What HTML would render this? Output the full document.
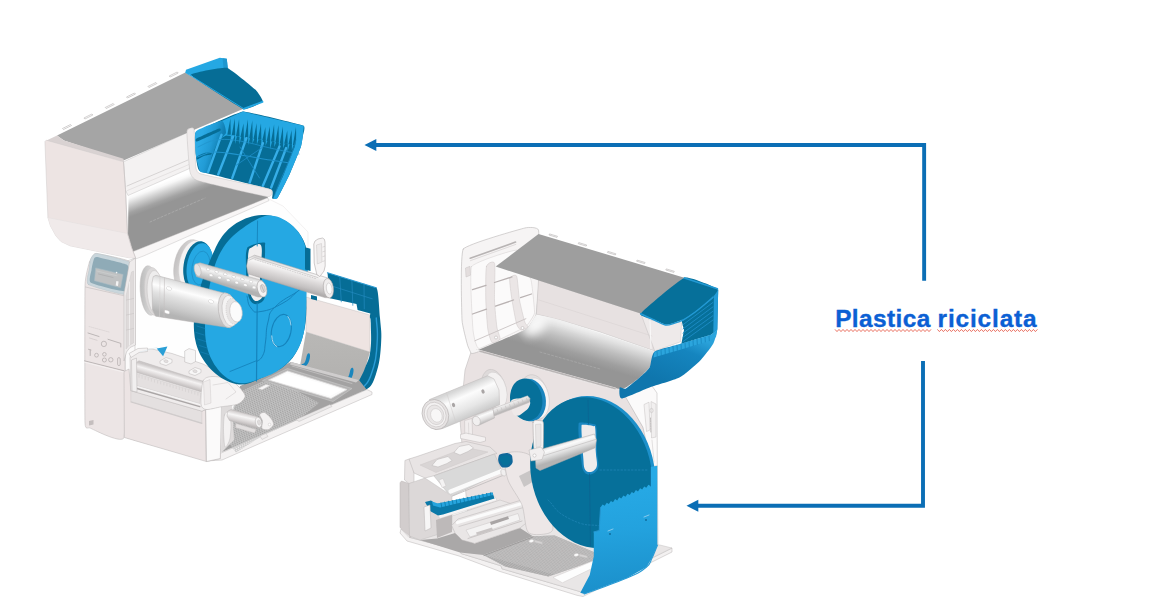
<!DOCTYPE html>
<html><head><meta charset="utf-8">
<style>
html,body{margin:0;padding:0;background:#fff;}
body{width:1162px;height:603px;overflow:hidden;position:relative;font-family:"Liberation Sans",sans-serif;}
svg{position:absolute;left:0;top:0;}
.lbl{position:absolute;top:304.1px;font-weight:bold;font-size:24.4px;color:#0b60d4;white-space:nowrap;line-height:30px;-webkit-text-stroke:0.35px #0b60d4;}
#l1{left:835.2px;letter-spacing:0.4px;}
#l2{left:937.6px;letter-spacing:0.85px;}
</style></head><body>
<svg width="1162" height="603" viewBox="0 0 1162 603">
<!-- 10_left_a.svgfrag -->
<defs><linearGradient id="lgA" gradientUnits="userSpaceOnUse" x1="152.0" y1="187.0" x2="168.0" y2="224.0"><stop offset="0" stop-color="#f2f2f2"/><stop offset="0.1" stop-color="#ffffff"/><stop offset="0.22" stop-color="#eeeeee"/><stop offset="0.45" stop-color="#c6c6c6"/><stop offset="0.7" stop-color="#b0b0b0"/><stop offset="1" stop-color="#a8a8a8"/></linearGradient><linearGradient id="lgCyl" gradientUnits="userSpaceOnUse" x1="0.0" y1="0.0" x2="1.0" y2="0.0"><stop offset="0" stop-color="#fff"/></linearGradient><linearGradient id="lgRoll" gradientUnits="userSpaceOnUse" x1="196.0" y1="284.0" x2="187.0" y2="319.0"><stop offset="0" stop-color="#cfcfcf"/><stop offset="0.12" stop-color="#e6e6e6"/><stop offset="0.3" stop-color="#fdfdfd"/><stop offset="0.5" stop-color="#e2e2e2"/><stop offset="0.8" stop-color="#c9c9c9"/><stop offset="1" stop-color="#b4b4b4"/></linearGradient><linearGradient id="lgFl" gradientUnits="userSpaceOnUse" x1="139.0" y1="290.0" x2="162.0" y2="292.0"><stop offset="0" stop-color="#b9b9b9"/><stop offset="0.5" stop-color="#d6d6d6"/><stop offset="1" stop-color="#eeeeee"/></linearGradient><linearGradient id="lgShaft" gradientUnits="userSpaceOnUse" x1="291.0" y1="264.0" x2="285.5" y2="286.0"><stop offset="0" stop-color="#d2d0d0"/><stop offset="0.25" stop-color="#f7f6f6"/><stop offset="0.55" stop-color="#dddada"/><stop offset="0.85" stop-color="#c4c1c1"/><stop offset="1" stop-color="#b0adad"/></linearGradient><linearGradient id="lgSp" gradientUnits="userSpaceOnUse" x1="232.0" y1="272.0" x2="228.5" y2="285.5"><stop offset="0" stop-color="#cbcbcb"/><stop offset="0.3" stop-color="#f4f4f4"/><stop offset="0.6" stop-color="#d6d6d6"/><stop offset="1" stop-color="#b2b2b2"/></linearGradient><linearGradient id="lgSide" gradientUnits="userSpaceOnUse" x1="330.0" y1="330.0" x2="330.0" y2="385.0"><stop offset="0" stop-color="#b9b8b6"/><stop offset="1" stop-color="#b2b1af"/></linearGradient><linearGradient id="lgRing" gradientUnits="userSpaceOnUse" x1="174.0" y1="266.0" x2="200.0" y2="270.0"><stop offset="0" stop-color="#c4c2c2"/><stop offset="0.5" stop-color="#dddbdb"/><stop offset="1" stop-color="#f0eeee"/></linearGradient><linearGradient id="lgPlaten" gradientUnits="userSpaceOnUse" x1="170.0" y1="371.5" x2="167.0" y2="382.0"><stop offset="0" stop-color="#cbc7c7"/><stop offset="0.35" stop-color="#f4f2f2"/><stop offset="0.7" stop-color="#d9d5d5"/><stop offset="1" stop-color="#bfbbbb"/></linearGradient><linearGradient id="lgPeel" gradientUnits="userSpaceOnUse" x1="244.0" y1="413.0" x2="241.5" y2="424.0"><stop offset="0" stop-color="#cfcbcb"/><stop offset="0.35" stop-color="#f7f6f6"/><stop offset="0.75" stop-color="#d6d2d2"/><stop offset="1" stop-color="#bcb8b8"/></linearGradient></defs>
<polygon points="133.0,258.0 267.0,198.0 283.0,206.0 308.0,232.0 308.0,366.0 225.0,452.0 206.0,460.0 133.0,440.0" fill="#fefefe" stroke="#e6e3e3" stroke-width="0.5" stroke-linejoin="round" />
<polygon points="125.0,262.0 135.0,258.0 135.0,440.0 125.0,437.0" fill="#fbfafa" stroke="#b9b5b5" stroke-width="0.5" stroke-linejoin="round" />
<polygon points="306.0,297.0 370.0,315.0 370.0,352.0 306.0,332.0" fill="#eee4e2" stroke="#b9b5b5" stroke-width="0.4" stroke-linejoin="round" />
<polygon points="306.0,332.0 370.0,352.0 361.0,383.0 300.0,366.0" fill="url(#lgSide)" />
<polygon points="327.5,272.8 376.2,287.8 376.2,312.2 370.4,313.4 357.6,309.9 356.5,304.0 329.8,298.3" fill="#066d96" />
<polygon points="311.0,295.0 317.0,296.5 317.0,300.5 311.0,299.0" fill="#066d96" />
<polyline points="327.5,272.8 376.2,287.8" fill="none" stroke="#2b9ad2" stroke-width="1.2" stroke-linecap="round" stroke-linejoin="round" />
<polyline points="339.7,276.6 341.3,301.8" fill="none" stroke="#2389bf" stroke-width="0.7" stroke-linecap="round" stroke-linejoin="round" />
<polyline points="351.9,280.3 352.8,305.3" fill="none" stroke="#2389bf" stroke-width="0.7" stroke-linecap="round" stroke-linejoin="round" />
<polyline points="364.0,284.1 364.3,308.8" fill="none" stroke="#2389bf" stroke-width="0.7" stroke-linecap="round" stroke-linejoin="round" />
<polyline points="328.5,285.0 376.0,300.0" fill="none" stroke="#2389bf" stroke-width="0.7" stroke-linecap="round" stroke-linejoin="round" />
<path d="M376.2 287.8 C378.4 289.0 378.9 304.7 380.0 318.0 C381.1 331.3 381.9 331.9 381.0 345.0 C380.1 358.1 379.3 363.7 376.0 374.0 C372.7 384.3 371.3 386.1 367.0 389.0 C362.7 391.9 358.2 391.2 357.6 386.5 C357.0 381.8 361.6 377.4 364.6 369.0 C367.6 360.6 369.0 361.2 370.4 350.5 C371.8 339.8 370.8 331.8 370.8 323.0 C370.8 314.2 369.1 321.2 370.4 313.0 C371.7 304.8 374.0 286.6 376.2 287.8Z" fill="#066d96" />
<path d="M376.3 318.0 C376.5 327.0 378.4 327.0 377.0 345.0 C375.6 363.0 376.5 357.8 372.0 372.0 C367.5 386.2 366.3 382.3 363.5 387.5" fill="none" stroke="#2a9cd6" stroke-width="1.4" stroke-linejoin="round" stroke-linecap="round" />
<path d="M307.5 354.0 C308.5 352.6 309.8 353.3 310.0 355.0 C310.2 356.7 309.7 360.0 308.5 362.5 C307.3 365.0 305.6 366.6 304.0 367.5 C302.4 368.4 301.0 367.6 300.5 367.0 C300.0 366.4 300.6 365.5 301.5 364.5 C302.4 363.5 303.8 364.1 305.0 362.0 C306.2 359.9 306.5 355.4 307.5 354.0Z" fill="#1a86bd" />
<path d="M351.0 368.5 C352.0 367.1 353.3 367.8 353.5 369.5 C353.7 371.2 353.2 374.5 352.0 377.0 C350.8 379.5 349.1 381.1 347.5 382.0 C345.9 382.9 344.5 382.1 344.0 381.5 C343.5 380.9 344.1 380.0 345.0 379.0 C345.9 378.0 347.3 378.6 348.5 376.5 C349.7 374.4 350.0 369.9 351.0 368.5Z" fill="#1a86bd" />
<polygon points="221.0,453.0 367.0,389.5 372.0,392.0 372.0,394.5 222.0,460.0 206.0,461.0" fill="#f4f2f2" stroke="#b9b5b5" stroke-width="0.5" stroke-linejoin="round" />
<polygon points="222.0,452.0 240.0,386.0 258.0,378.0 291.0,362.0 359.0,380.0 366.5,389.5" fill="#a3a2a2" />
<clipPath id="clipMesh"><polygon points="240.0,392.0 262.0,381.5 284.0,384.0 319.0,403.0 300.0,418.5 262.0,436.0 236.0,452.5 226.0,440.0 232.0,410.0"/></clipPath>
<g clip-path="url(#clipMesh)" stroke="#c6c5c5" stroke-width="0.75" fill="none"><line x1="198.7" y1="471.5" x2="336.2" y2="411.6"/><line x1="199.7" y1="469.2" x2="337.2" y2="409.3"/><line x1="200.7" y1="466.9" x2="338.2" y2="407.0"/><line x1="201.7" y1="464.6" x2="339.2" y2="404.7"/><line x1="202.7" y1="462.3" x2="340.2" y2="402.4"/><line x1="203.7" y1="460.0" x2="341.2" y2="400.1"/><line x1="204.7" y1="457.7" x2="342.2" y2="397.8"/><line x1="205.7" y1="455.4" x2="343.2" y2="395.5"/><line x1="206.7" y1="453.1" x2="344.2" y2="393.2"/><line x1="207.7" y1="450.8" x2="345.2" y2="390.9"/><line x1="208.7" y1="448.5" x2="346.2" y2="388.6"/><line x1="209.7" y1="446.2" x2="347.2" y2="386.3"/><line x1="210.7" y1="443.9" x2="348.2" y2="384.0"/><line x1="211.7" y1="441.6" x2="349.2" y2="381.7"/><line x1="212.7" y1="439.3" x2="350.2" y2="379.4"/><line x1="213.7" y1="437.0" x2="351.2" y2="377.1"/><line x1="214.7" y1="434.7" x2="352.2" y2="374.8"/><line x1="215.7" y1="432.4" x2="353.2" y2="372.5"/><line x1="216.7" y1="430.1" x2="354.2" y2="370.2"/><line x1="217.7" y1="427.8" x2="355.2" y2="367.9"/><line x1="218.7" y1="425.5" x2="356.2" y2="365.6"/><line x1="219.7" y1="423.2" x2="357.2" y2="363.3"/><line x1="220.7" y1="420.9" x2="358.2" y2="361.0"/><line x1="221.7" y1="418.6" x2="359.2" y2="358.7"/><line x1="222.7" y1="416.3" x2="360.2" y2="356.4"/><line x1="223.7" y1="414.0" x2="361.2" y2="354.1"/><line x1="224.7" y1="411.7" x2="362.2" y2="351.8"/><line x1="225.7" y1="409.4" x2="363.2" y2="349.5"/><line x1="226.7" y1="407.1" x2="364.2" y2="347.2"/><line x1="227.7" y1="404.8" x2="365.2" y2="344.9"/><line x1="228.7" y1="402.5" x2="366.2" y2="342.6"/><line x1="229.7" y1="400.2" x2="367.2" y2="340.3"/><line x1="230.7" y1="397.9" x2="368.2" y2="338.0"/><line x1="231.7" y1="395.6" x2="369.2" y2="335.7"/><line x1="232.7" y1="393.3" x2="370.2" y2="333.4"/><line x1="233.7" y1="391.0" x2="371.2" y2="331.1"/><line x1="234.7" y1="388.7" x2="372.2" y2="328.8"/><line x1="235.7" y1="386.4" x2="373.2" y2="326.5"/><line x1="236.7" y1="384.1" x2="374.2" y2="324.2"/><line x1="237.7" y1="381.8" x2="375.2" y2="321.9"/><line x1="238.7" y1="379.5" x2="376.2" y2="319.6"/><line x1="239.7" y1="377.2" x2="377.2" y2="317.3"/><line x1="240.7" y1="374.9" x2="378.2" y2="315.0"/><line x1="241.7" y1="372.6" x2="379.2" y2="312.7"/><line x1="242.7" y1="370.3" x2="380.2" y2="310.4"/><line x1="243.7" y1="368.0" x2="381.2" y2="308.1"/><line x1="244.7" y1="365.7" x2="382.2" y2="305.8"/><line x1="245.7" y1="363.4" x2="383.2" y2="303.5"/><line x1="246.7" y1="361.1" x2="384.2" y2="301.2"/><line x1="247.7" y1="358.8" x2="385.2" y2="298.9"/><line x1="202.0" y1="374.6" x2="227.0" y2="471.4"/><line x1="204.1" y1="373.6" x2="229.1" y2="470.4"/><line x1="206.2" y1="372.7" x2="231.2" y2="469.5"/><line x1="208.3" y1="371.8" x2="233.3" y2="468.6"/><line x1="210.4" y1="370.9" x2="235.4" y2="467.7"/><line x1="212.5" y1="370.0" x2="237.5" y2="466.8"/><line x1="214.6" y1="369.1" x2="239.6" y2="465.9"/><line x1="216.7" y1="368.2" x2="241.7" y2="465.0"/><line x1="218.8" y1="367.3" x2="243.8" y2="464.1"/><line x1="220.9" y1="366.4" x2="245.9" y2="463.2"/><line x1="223.0" y1="365.5" x2="248.0" y2="462.3"/><line x1="225.1" y1="364.6" x2="250.1" y2="461.4"/><line x1="227.2" y1="363.6" x2="252.2" y2="460.4"/><line x1="229.3" y1="362.7" x2="254.3" y2="459.5"/><line x1="231.4" y1="361.8" x2="256.4" y2="458.6"/><line x1="233.5" y1="360.9" x2="258.5" y2="457.7"/><line x1="235.6" y1="360.0" x2="260.6" y2="456.8"/><line x1="237.7" y1="359.1" x2="262.7" y2="455.9"/><line x1="239.8" y1="358.2" x2="264.8" y2="455.0"/><line x1="241.9" y1="357.3" x2="266.9" y2="454.1"/><line x1="244.0" y1="356.4" x2="269.0" y2="453.2"/><line x1="246.1" y1="355.4" x2="271.1" y2="452.2"/><line x1="248.2" y1="354.5" x2="273.2" y2="451.3"/><line x1="250.3" y1="353.6" x2="275.3" y2="450.4"/><line x1="252.4" y1="352.7" x2="277.4" y2="449.5"/><line x1="254.5" y1="351.8" x2="279.5" y2="448.6"/><line x1="256.6" y1="350.9" x2="281.6" y2="447.7"/><line x1="258.7" y1="350.0" x2="283.7" y2="446.8"/><line x1="260.8" y1="349.1" x2="285.8" y2="445.9"/><line x1="262.9" y1="348.2" x2="287.9" y2="445.0"/><line x1="265.0" y1="347.3" x2="290.0" y2="444.1"/><line x1="267.1" y1="346.4" x2="292.1" y2="443.2"/><line x1="269.2" y1="345.4" x2="294.2" y2="442.2"/><line x1="271.3" y1="344.5" x2="296.3" y2="441.3"/><line x1="273.4" y1="343.6" x2="298.4" y2="440.4"/><line x1="275.5" y1="342.7" x2="300.5" y2="439.5"/><line x1="277.6" y1="341.8" x2="302.6" y2="438.6"/><line x1="279.7" y1="340.9" x2="304.7" y2="437.7"/><line x1="281.8" y1="340.0" x2="306.8" y2="436.8"/><line x1="283.9" y1="339.1" x2="308.9" y2="435.9"/><line x1="286.0" y1="338.2" x2="311.0" y2="435.0"/><line x1="288.1" y1="337.2" x2="313.1" y2="434.1"/><line x1="290.2" y1="336.3" x2="315.2" y2="433.1"/><line x1="292.3" y1="335.4" x2="317.3" y2="432.2"/><line x1="294.4" y1="334.5" x2="319.4" y2="431.3"/><line x1="296.5" y1="333.6" x2="321.5" y2="430.4"/><line x1="298.6" y1="332.7" x2="323.6" y2="429.5"/><line x1="300.7" y1="331.8" x2="325.7" y2="428.6"/><line x1="302.8" y1="330.9" x2="327.8" y2="427.7"/><line x1="304.9" y1="330.0" x2="329.9" y2="426.8"/></g>
<polygon points="262.5,380.5 287.5,368.5 352.0,388.5 333.0,401.5" fill="#b4b3b3" stroke="#cfcece" stroke-width="0.5" stroke-linejoin="round" />
<polygon points="268.5,380.0 287.5,371.0 347.0,389.5 331.0,398.5" fill="#fbfbfb" stroke="#dcdada" stroke-width="0.8" stroke-linejoin="round" />
<polygon points="272.0,380.3 287.0,373.2 342.0,389.8 330.0,396.0" fill="#ffffff" />
<polygon points="258.0,388.5 266.0,384.5 270.0,385.5 262.0,389.8" fill="#f6f5f5" stroke="#d2d0d0" stroke-width="0.4" stroke-linejoin="round" />
<polygon points="291.0,362.0 359.0,380.0 356.0,382.5 290.0,364.5" fill="#cfcdcd" />
<polyline points="292.0,366.0 352.0,383.5" fill="none" stroke="#cfcdcd" stroke-width="0.6" stroke-linecap="round" stroke-linejoin="round" />
<polygon points="296.0,419.5 330.0,404.5 332.0,406.5 299.0,421.5" fill="#e9e7e7" stroke="#b9b5b5" stroke-width="0.4" stroke-linejoin="round" />
<polygon points="260.0,436.0 266.0,433.5 268.0,436.5 262.0,439.5" fill="#efeded" stroke="#b9b5b5" stroke-width="0.4" stroke-linejoin="round" />
<!-- 11_left_lid.svgfrag -->
<clipPath id="clipLP"><polygon points="128.5,195.0 189.0,169.5 199.0,180.0 267.5,196.5 268.0,198.5 134.0,256.0 128.0,236.0"/></clipPath>
<filter id="blurL" x="-30%" y="-40%" width="160%" height="180%"><feGaussianBlur stdDeviation="3"/></filter>
<linearGradient id="lgP" gradientUnits="userSpaceOnUse" x1="160.0" y1="183.4" x2="167.4" y2="203.2"><stop offset="0" stop-color="#ffffff"/><stop offset="0.15" stop-color="#f8f8f8"/><stop offset="0.45" stop-color="#cfcfcf"/><stop offset="0.8" stop-color="#a2a2a2"/><stop offset="1" stop-color="#959595"/></linearGradient>
<g clip-path="url(#clipLP)"><rect x="120" y="160" width="160" height="100" fill="url(#lgP)"/><path d="M127.5 262 L127.5 236 L127 193" fill="none" stroke="#ffffff" stroke-width="7" stroke-linejoin="round" filter="url(#blurL)" opacity="0.9"/></g>
<polyline points="150.0,222.0 205.0,198.0" fill="none" stroke="#bcbcbc" stroke-width="0.5" stroke-linecap="round" stroke-linejoin="round" stroke-dasharray="2 2"/>
<polygon points="130.5,252.6 267.5,197.8 269.0,200.6 144.0,255.8 136.0,258.8 132.0,256.5" fill="#f8f6f6" stroke="#b9b5b5" stroke-width="0.4" stroke-linejoin="round" />
<polygon points="123.5,161.8 194.0,129.5 189.5,168.5 128.0,195.5 125.0,189.0" fill="#f4f2f2" stroke="#b9b5b5" stroke-width="0.4" stroke-linejoin="round" />
<polyline points="127.0,186.0 188.0,160.0" fill="none" stroke="#b9b5b5" stroke-width="0.5" stroke-linecap="round" stroke-linejoin="round" />
<polyline points="127.5,190.5 189.0,164.5" fill="none" stroke="#d5d1d1" stroke-width="0.5" stroke-linecap="round" stroke-linejoin="round" />
<polygon points="57.0,135.5 185.3,72.6 243.5,108.7 194.3,129.7 123.5,160.6 64.0,140.6" fill="#a5a5a5" />
<polygon points="62.5,128.5 70.5,124.5 71.5,125.5 63.5,129.5" fill="#ffffff" stroke="#b5b1b1" stroke-width="0.6" stroke-linejoin="round" />
<polygon points="83.9,118.0 91.9,114.0 92.9,115.0 84.9,119.0" fill="#ffffff" stroke="#b5b1b1" stroke-width="0.6" stroke-linejoin="round" />
<polygon points="105.2,107.5 113.2,103.5 114.2,104.5 106.2,108.5" fill="#ffffff" stroke="#b5b1b1" stroke-width="0.6" stroke-linejoin="round" />
<polygon points="126.5,97.0 134.5,93.0 135.5,94.0 127.5,98.0" fill="#ffffff" stroke="#b5b1b1" stroke-width="0.6" stroke-linejoin="round" />
<polygon points="147.9,86.5 155.9,82.5 156.9,83.5 148.9,87.5" fill="#ffffff" stroke="#b5b1b1" stroke-width="0.6" stroke-linejoin="round" />
<polygon points="169.2,76.0 177.2,72.0 178.2,73.0 170.2,77.0" fill="#ffffff" stroke="#b5b1b1" stroke-width="0.6" stroke-linejoin="round" />
<polygon points="47.0,140.3 57.0,135.5 64.0,140.6 123.5,158.8 123.8,162.0 46.0,141.5" fill="#d9d2d2" />
<polygon points="46.2,140.2 44.9,141.5 47.9,217.6 50.5,226.0 56.0,236.0 61.0,241.5 70.0,245.8 129.0,257.8 135.5,257.8 131.5,247.4 127.5,233.5 125.5,189.7 123.5,161.8" fill="#ede4e3" stroke="#cfcaca" stroke-width="0.5" stroke-linejoin="round" />
<polygon points="47.9,217.6 50.5,226.0 56.0,236.0 61.0,241.5 70.0,245.8 129.0,257.8 135.5,257.8 131.5,247.4 127.5,233.5" fill="#f0eaea" />
<polyline points="47.9,217.6 127.5,233.5" fill="none" stroke="#e2dede" stroke-width="0.5" stroke-linecap="round" stroke-linejoin="round" />
<polyline points="123.5,161.8 125.5,189.7 127.5,233.5 131.5,247.4 135.5,257.8" fill="none" stroke="#c4bfbf" stroke-width="0.6" stroke-linecap="round" stroke-linejoin="round" />
<polygon points="185.3,72.4 186.0,69.8 219.8,57.8 226.8,58.8 227.8,68.5 191.0,75.5" fill="#25a8e3" />
<polygon points="222.5,58.3 226.8,58.8 227.8,68.5 223.5,67.8" fill="#1f97cf" />
<path d="M190.9 75.0 C190.0 72.8 223.2 66.9 226.7 67.7 C230.2 68.5 253.7 88.0 255.6 89.8 C257.5 91.6 263.3 100.5 262.7 101.5 C262.1 102.5 247.4 110.4 243.6 109.0 C239.8 107.6 191.8 77.2 190.9 75.0Z" fill="#066d96" />
<polyline points="243.6,108.8 262.5,101.8" fill="none" stroke="#25a8e3" stroke-width="1.8" stroke-linecap="round" stroke-linejoin="round" />
<polyline points="185.8,72.6 243.6,108.6" fill="none" stroke="#25a8e3" stroke-width="1.0" stroke-linecap="round" stroke-linejoin="round" />
<path d="M195.8 132.3 C197.7 130.6 238.7 111.9 243.0 111.6 C247.3 111.3 301.1 124.7 303.5 125.7 C305.9 126.7 302.9 135.2 302.8 136.0 C302.7 136.8 301.5 144.9 301.0 146.4 C300.5 147.9 290.4 172.5 289.5 174.6 C288.6 176.7 278.5 196.8 277.8 197.8 C277.1 198.8 272.3 198.9 272.0 198.6 C271.7 198.3 274.1 190.6 271.2 189.5 C268.3 188.4 203.0 172.7 200.0 171.3 C197.0 169.9 196.0 156.3 195.8 154.7 C195.6 153.1 193.9 134.0 195.8 132.3Z" fill="#066d96" />
<polygon points="214.0,124.5 243.0,111.6 303.5,125.7 302.0,140.0 298.0,145.2 245.0,137.0 226.0,135.6 218.0,140.0" fill="#25a8e3" />
<polygon points="230.4,118.4 227.3,134.8 230.8,134.8" fill="#066d96" />
<polygon points="230.8,134.5 232.8,134.5 230.6,142.5" fill="#25a8e3" />
<polygon points="234.8,118.3 231.7,135.5 235.2,135.5" fill="#066d96" />
<polygon points="235.2,135.2 237.2,135.2 235.0,144.0" fill="#25a8e3" />
<polygon points="239.1,119.2 236.0,136.2 239.5,136.2" fill="#066d96" />
<polygon points="239.5,135.9 241.5,135.9 239.3,144.6" fill="#25a8e3" />
<polygon points="243.5,123.4 240.4,136.9 243.9,136.9" fill="#066d96" />
<polygon points="243.9,136.6 245.9,136.6 243.7,143.4" fill="#25a8e3" />
<polygon points="247.9,119.5 244.8,137.6 248.3,137.6" fill="#066d96" />
<polygon points="248.3,137.3 250.3,137.3 248.1,144.9" fill="#25a8e3" />
<polygon points="252.3,120.4 249.2,138.2 252.7,138.2" fill="#066d96" />
<polygon points="252.7,137.9 254.7,137.9 252.5,143.4" fill="#25a8e3" />
<polygon points="256.6,123.3 253.5,138.9 257.0,138.9" fill="#066d96" />
<polygon points="257.0,138.6 259.0,138.6 256.8,144.6" fill="#25a8e3" />
<polygon points="261.0,123.6 257.9,139.6 261.4,139.6" fill="#066d96" />
<polygon points="261.4,139.3 263.4,139.3 261.2,146.6" fill="#25a8e3" />
<polygon points="265.4,126.9 262.3,140.3 265.8,140.3" fill="#066d96" />
<polygon points="265.8,140.0 267.8,140.0 265.6,145.8" fill="#25a8e3" />
<polygon points="269.8,126.3 266.7,141.0 270.2,141.0" fill="#066d96" />
<polygon points="270.2,140.7 272.2,140.7 270.0,149.3" fill="#25a8e3" />
<polygon points="274.1,124.5 271.0,141.6 274.5,141.6" fill="#066d96" />
<polygon points="274.5,141.3 276.5,141.3 274.3,147.0" fill="#25a8e3" />
<polygon points="278.5,125.0 275.4,142.3 278.9,142.3" fill="#066d96" />
<polygon points="278.9,142.0 280.9,142.0 278.7,147.6" fill="#25a8e3" />
<polygon points="282.9,126.6 279.8,143.0 283.3,143.0" fill="#066d96" />
<polygon points="283.3,142.7 285.3,142.7 283.1,148.2" fill="#25a8e3" />
<polygon points="287.3,130.4 284.2,143.7 287.7,143.7" fill="#066d96" />
<polygon points="287.7,143.4 289.7,143.4 287.5,151.9" fill="#25a8e3" />
<polygon points="291.6,130.0 288.5,144.3 292.0,144.3" fill="#066d96" />
<polygon points="292.0,144.0 294.0,144.0 291.8,149.9" fill="#25a8e3" />
<polygon points="296.0,126.8 292.9,145.0 296.4,145.0" fill="#066d96" />
<polygon points="296.4,144.7 298.4,144.7 296.2,153.2" fill="#25a8e3" />
<linearGradient id="lgTrayL" gradientUnits="userSpaceOnUse" x1="197" y1="150" x2="217" y2="156"><stop offset="0" stop-color="#2cabe6"/><stop offset="0.55" stop-color="#219bd5"/><stop offset="1" stop-color="#0f7db0"/></linearGradient>
<path d="M195.9 131.5 C198.0 128.8 219.6 120.9 222.0 121.0 C224.4 121.1 226.3 131.3 226.0 133.0 C225.7 134.7 219.1 140.2 218.0 142.0 C216.9 143.8 212.8 153.6 212.0 156.0 C211.2 158.4 209.5 171.3 208.5 172.5 C207.5 173.7 201.0 172.7 200.0 171.3 C199.0 169.9 196.1 157.9 195.8 154.7 C195.5 151.5 193.8 134.2 195.9 131.5Z" fill="url(#lgTrayL)" />
<path d="M196.5 138.5 C198.0 137.6 217.4 129.0 219.0 128.5 C220.6 128.0 221.5 130.1 220.0 131.0 C218.5 131.9 198.6 141.0 197.0 141.5 C195.4 142.0 195.0 139.4 196.5 138.5Z" fill="#066d96" />
<path d="M197.0 156.5 C197.7 155.9 202.6 153.6 204.0 153.2 C205.4 152.8 210.8 151.9 211.5 152.0 C212.2 152.1 211.7 154.1 211.0 154.5 C210.3 154.9 205.9 155.3 204.5 155.8 C203.1 156.3 198.1 159.4 197.3 159.5 C196.6 159.6 196.3 157.1 197.0 156.5Z" fill="#066d96" />
<polyline points="221.5,134.8 208.2,171.8" fill="none" stroke="#36aee8" stroke-width="2.4" stroke-linecap="round" stroke-linejoin="round" />
<polyline points="233.1,136.5 218.2,174.5" fill="none" stroke="#36aee8" stroke-width="2.4" stroke-linecap="round" stroke-linejoin="round" />
<polyline points="246.4,138.2 232.3,177.8" fill="none" stroke="#36aee8" stroke-width="2.4" stroke-linecap="round" stroke-linejoin="round" />
<polyline points="262.9,143.1 249.7,182.5" fill="none" stroke="#36aee8" stroke-width="2.4" stroke-linecap="round" stroke-linejoin="round" />
<polyline points="279.5,146.4 262.9,185.8" fill="none" stroke="#36aee8" stroke-width="2.4" stroke-linecap="round" stroke-linejoin="round" />
<polyline points="286.1,148.1 271.2,187.5" fill="none" stroke="#36aee8" stroke-width="2.4" stroke-linecap="round" stroke-linejoin="round" />
<path d="M197.5 157.0 C200.8 156.0 205.5 152.4 214.0 152.0 C222.5 151.6 228.8 153.4 240.0 155.0 C251.2 156.6 259.4 158.3 270.0 160.0 C280.6 161.7 288.4 162.8 293.0 163.5" fill="none" stroke="#1f93cc" stroke-width="1.1" stroke-linejoin="round" stroke-linecap="round" />
<path d="M198.0 147.0 C201.6 145.6 207.6 141.2 216.0 140.0 C224.4 138.8 229.2 139.4 240.0 141.0 C250.8 142.6 258.2 145.4 270.0 148.0 C281.8 150.6 293.2 152.8 299.0 154.0" fill="none" stroke="#1f93cc" stroke-width="0.8" stroke-linejoin="round" stroke-linecap="round" />
<polyline points="240.0,147.0 259.5,178.0" fill="none" stroke="#1c8ac2" stroke-width="0.9" stroke-linecap="round" stroke-linejoin="round" />
<polyline points="263.0,147.0 236.5,165.0" fill="none" stroke="#1c8ac2" stroke-width="0.9" stroke-linecap="round" stroke-linejoin="round" />
<path d="M303.5 125.7 C303.9 126.0 303.0 134.6 302.8 136.0 C302.6 137.4 301.9 143.8 301.0 146.4 C300.1 149.0 291.0 171.2 289.5 174.6 C288.0 178.0 278.9 196.2 277.8 197.8 C276.7 199.4 273.1 199.6 273.5 198.0 C273.9 196.4 282.6 177.5 284.0 174.0 C285.4 170.5 294.1 148.9 295.0 146.0 C295.9 143.1 296.9 132.4 297.5 131.0 C298.1 129.6 303.1 125.4 303.5 125.7Z" fill="#25a8e3" />
<path d="M296.0 140.0 C294.0 146.0 295.7 143.3 290.0 158.0 C284.3 172.7 284.2 171.3 279.0 184.0 C273.8 196.7 276.0 192.0 274.5 196.0" fill="none" stroke="#1a8ac2" stroke-width="0.8" stroke-linejoin="round" stroke-linecap="round" />
<path d="M186.9 131.0 C187.2 128.1 193.3 126.8 193.9 128.8 C194.5 130.8 195.1 158.7 195.5 161.7 C195.9 164.7 195.0 171.8 199.9 173.6 C204.8 175.4 265.0 187.5 269.5 189.0 C274.0 190.5 272.3 197.2 267.5 196.7 C262.7 196.2 203.2 182.5 198.0 180.8 C192.8 179.1 190.6 174.9 189.9 171.6 C189.2 168.3 186.6 133.9 186.9 131.0Z" fill="#efebeb" stroke="#b9b5b5" stroke-width="0.4" stroke-linejoin="round" stroke-linecap="round" />
<!-- 12_left_body.svgfrag -->
<path d="M89.5 262.0 C90.1 260.3 93.4 253.5 95.5 253.5 C97.6 253.5 127.9 259.4 129.5 261.5 C131.1 263.6 125.3 283.6 125.0 293.0 C124.7 302.4 125.9 430.3 124.0 437.5 C122.1 444.7 92.1 428.8 90.0 428.0 C87.9 427.2 85.3 430.6 85.0 423.0 C84.7 415.4 84.8 293.6 85.0 285.0 C85.2 276.4 88.9 263.7 89.5 262.0Z" fill="#ece5e5" stroke="#b9b5b5" stroke-width="0.5" stroke-linejoin="round" stroke-linecap="round" />
<path d="M88.3 284.5 C85.3 282.5 88.8 272.1 89.0 270.0 C89.2 267.9 90.2 260.1 90.8 258.8 C91.4 257.5 93.6 253.2 96.6 253.4 C99.6 253.6 126.1 260.3 128.9 261.7 C131.7 263.1 131.6 268.6 131.4 271.2 C131.2 273.8 129.8 293.3 126.4 294.4 C123.0 295.5 91.3 286.5 88.3 284.5Z" fill="#c9d6dc" stroke="#b9c2c6" stroke-width="0.5" stroke-linejoin="round" stroke-linecap="round" />
<path d="M90.8 282.8 C88.1 281.1 91.3 271.7 91.5 270.0 C91.7 268.3 92.9 262.3 93.3 261.3 C93.7 260.3 94.0 256.8 96.6 257.1 C99.2 257.4 123.8 263.4 126.4 264.6 C129.0 265.8 129.0 269.9 128.9 272.0 C128.8 274.1 127.7 290.2 124.7 291.1 C121.7 292.0 93.5 284.5 90.8 282.8Z" fill="#8fabb7" />
<polygon points="95.7,267.9 123.1,274.5 120.6,287.8 94.5,280.7" fill="#bfc1c2" stroke="#a9bcc5" stroke-width="0.6" stroke-linejoin="round" />
<polyline points="98.5,274.0 113.0,277.5" fill="none" stroke="#a9abac" stroke-width="0.7" stroke-linecap="round" stroke-linejoin="round" />
<polyline points="97.0,271.0 117.0,275.8" fill="none" stroke="#cfd1d2" stroke-width="0.6" stroke-linecap="round" stroke-linejoin="round" />
<polygon points="116.3,281.0 118.6,281.6 118.0,286.0 115.7,285.4" fill="#f4f4f4" />
<ellipse cx="116.6" cy="272.6" rx="0.8" ry="0.8" fill="#f4f4f4" />
<polyline points="84.5,360.8 123.8,370.7" fill="none" stroke="#bdb7b7" stroke-width="1.0" stroke-linecap="round" stroke-linejoin="round" />
<polyline points="84.5,362.2 123.8,372.1" fill="none" stroke="#f6f4f4" stroke-width="0.8" stroke-linecap="round" stroke-linejoin="round" />
<polyline points="85.5,287.0 125.0,296.0" fill="none" stroke="#b9b5b5" stroke-width="0.5" stroke-linecap="round" stroke-linejoin="round" />
<polyline points="89.0,326.5 109.0,332.0" fill="none" stroke="#cfc9c9" stroke-width="0.5" stroke-linecap="round" stroke-linejoin="round" stroke-dasharray="1 1"/>
<polyline points="88.0,333.0 99.0,336.5" fill="none" stroke="#b7b1b1" stroke-width="0.9" stroke-linecap="round" stroke-linejoin="round" />
<polyline points="108.0,339.3 120.8,343.4 120.8,347.0" fill="none" stroke="#b7b1b1" stroke-width="0.9" stroke-linecap="round" stroke-linejoin="round" />
<polyline points="89.5,338.0 97.0,340.3" fill="none" stroke="#c9c3c3" stroke-width="0.6" stroke-linecap="round" stroke-linejoin="round" />
<ellipse cx="103.9" cy="343.9" rx="2.6" ry="2.7" fill="none" stroke="#b7b1b1" stroke-width="0.8" />
<polyline points="90.2,350.0 90.2,355.5" fill="none" stroke="#b7b1b1" stroke-width="1.0" stroke-linecap="round" stroke-linejoin="round" />
<polyline points="88.5,349.3 91.0,350.0" fill="none" stroke="#b7b1b1" stroke-width="0.8" stroke-linecap="round" stroke-linejoin="round" />
<ellipse cx="96.5" cy="355.2" rx="1.9" ry="1.9" fill="none" stroke="#b7b1b1" stroke-width="0.8" />
<ellipse cx="104.4" cy="354.3" rx="1.8" ry="1.8" fill="none" stroke="#b7b1b1" stroke-width="0.8" />
<ellipse cx="104.4" cy="360.0" rx="2.0" ry="2.0" fill="none" stroke="#b7b1b1" stroke-width="0.8" />
<ellipse cx="110.8" cy="359.8" rx="2.2" ry="2.2" fill="none" stroke="#b7b1b1" stroke-width="0.8" />
<rect x="117.6" y="357.6" width="2.6" height="8" rx="1.3" fill="none" stroke="#b7b1b1" stroke-width="0.8"/>
<polygon points="89.0,421.0 93.5,420.0 93.5,424.5 89.0,425.5" fill="#c4bebe" />
<polygon points="124.0,293.0 129.5,262.0 135.5,258.0 135.5,345.0 130.0,347.5 126.5,352.0 124.0,361.0" fill="#eeebeb" stroke="#b9b5b5" stroke-width="0.5" stroke-linejoin="round" />
<polygon points="126.0,296.0 131.5,272.0 133.5,271.0 133.5,343.0 129.0,345.5 126.0,349.0" fill="#dedada" stroke="#cbc7c7" stroke-width="0.4" stroke-linejoin="round" />
<polyline points="129.5,282.0 129.5,345.0" fill="none" stroke="#f1efef" stroke-width="0.9" stroke-linecap="round" stroke-linejoin="round" />
<polyline points="126.5,300.0 133.5,298.5" fill="none" stroke="#c4c0c0" stroke-width="0.5" stroke-linecap="round" stroke-linejoin="round" />
<polyline points="126.5,315.0 133.5,313.5" fill="none" stroke="#c4c0c0" stroke-width="0.5" stroke-linecap="round" stroke-linejoin="round" />
<polyline points="126.5,330.0 133.5,328.5" fill="none" stroke="#c4c0c0" stroke-width="0.5" stroke-linecap="round" stroke-linejoin="round" />
<polygon points="124.0,371.5 129.0,369.0 130.8,390.7 201.9,411.2 205.6,409.5 221.5,405.5 220.3,458.5 206.3,461.5 124.3,437.5" fill="#ece4e4" stroke="#b9b5b5" stroke-width="0.5" stroke-linejoin="round" />
<polygon points="205.6,409.5 221.5,405.5 220.3,458.5 206.3,461.5" fill="#fbfafa" stroke="#b9b5b5" stroke-width="0.5" stroke-linejoin="round" />
<polyline points="205.6,409.5 206.3,461.3" fill="none" stroke="#b9b5b5" stroke-width="0.5" stroke-linecap="round" stroke-linejoin="round" />
<polygon points="130.8,390.7 201.9,411.2 201.9,423.0 130.8,401.5" fill="#e4e0e0" stroke="#c9c5c5" stroke-width="0.4" stroke-linejoin="round" />
<polyline points="131.0,402.0 201.9,423.4" fill="none" stroke="#cfcbcb" stroke-width="1.2" stroke-linecap="round" stroke-linejoin="round" />
<polygon points="221.5,407.0 232.0,404.0 234.0,440.0 221.0,453.0" fill="#dedbdb" />
<path d="M224.5 415.0 C225.2 412.6 228.1 410.7 229.0 412.0 C229.9 413.3 230.9 421.3 231.0 425.0 C231.1 428.7 230.3 437.1 229.5 440.0 C228.7 442.9 225.8 448.3 225.0 447.0 C224.2 445.7 223.6 434.3 223.5 430.0 C223.4 425.7 223.8 417.4 224.5 415.0Z" fill="#f4f2f2" stroke="#b9b5b5" stroke-width="0.4" stroke-linejoin="round" stroke-linecap="round" />
<polygon points="130.0,358.0 131.0,353.0 139.0,349.5 152.0,349.0 172.0,353.5 203.0,364.0 228.0,377.0 240.0,388.0 245.0,396.0 236.0,404.0 221.5,406.0 205.6,409.6 201.9,411.2 130.8,390.7" fill="#efecec" stroke="#b9b5b5" stroke-width="0.5" stroke-linejoin="round" />
<polygon points="129.0,353.5 138.0,348.5 147.5,348.0 147.5,351.5 139.0,352.5 131.0,357.5" fill="#f6f4f4" stroke="#b9b5b5" stroke-width="0.5" stroke-linejoin="round" />
<polygon points="184.7,351.0 189.0,348.6 195.5,350.5 195.5,361.6 191.0,364.0 184.7,362.0" fill="#f6f5f5" stroke="#b9b5b5" stroke-width="0.5" stroke-linejoin="round" />
<polygon points="136.2,362.6 139.0,360.8 203.0,381.2 204.5,385.0 203.5,390.5 200.9,391.8 136.2,372.3 134.8,367.5" fill="url(#lgPlaten)" stroke="#bdb9b9" stroke-width="0.5" stroke-linejoin="round" />
<polygon points="136.2,373.5 200.9,393.0 199.8,403.5 136.2,385.5" fill="#e4e0e0" stroke="#cbc7c7" stroke-width="0.4" stroke-linejoin="round" />
<polyline points="139.0,375.2 139.0,377.4" fill="none" stroke="#cfcbcb" stroke-width="0.5" stroke-linecap="round" stroke-linejoin="round" />
<polyline points="142.1,376.1 142.1,378.3" fill="none" stroke="#cfcbcb" stroke-width="0.5" stroke-linecap="round" stroke-linejoin="round" />
<polyline points="145.2,377.1 145.2,379.3" fill="none" stroke="#cfcbcb" stroke-width="0.5" stroke-linecap="round" stroke-linejoin="round" />
<polyline points="148.3,378.0 148.3,380.2" fill="none" stroke="#cfcbcb" stroke-width="0.5" stroke-linecap="round" stroke-linejoin="round" />
<polyline points="151.4,378.9 151.4,381.1" fill="none" stroke="#cfcbcb" stroke-width="0.5" stroke-linecap="round" stroke-linejoin="round" />
<polyline points="154.5,379.9 154.5,382.1" fill="none" stroke="#cfcbcb" stroke-width="0.5" stroke-linecap="round" stroke-linejoin="round" />
<polyline points="157.6,380.8 157.6,383.0" fill="none" stroke="#cfcbcb" stroke-width="0.5" stroke-linecap="round" stroke-linejoin="round" />
<polyline points="160.7,381.7 160.7,383.9" fill="none" stroke="#cfcbcb" stroke-width="0.5" stroke-linecap="round" stroke-linejoin="round" />
<polyline points="163.8,382.7 163.8,384.9" fill="none" stroke="#cfcbcb" stroke-width="0.5" stroke-linecap="round" stroke-linejoin="round" />
<polyline points="166.9,383.6 166.9,385.8" fill="none" stroke="#cfcbcb" stroke-width="0.5" stroke-linecap="round" stroke-linejoin="round" />
<polyline points="170.0,384.6 170.0,386.8" fill="none" stroke="#cfcbcb" stroke-width="0.5" stroke-linecap="round" stroke-linejoin="round" />
<polyline points="173.1,385.5 173.1,387.7" fill="none" stroke="#cfcbcb" stroke-width="0.5" stroke-linecap="round" stroke-linejoin="round" />
<polyline points="176.2,386.4 176.2,388.6" fill="none" stroke="#cfcbcb" stroke-width="0.5" stroke-linecap="round" stroke-linejoin="round" />
<polyline points="179.3,387.4 179.3,389.6" fill="none" stroke="#cfcbcb" stroke-width="0.5" stroke-linecap="round" stroke-linejoin="round" />
<polyline points="182.4,388.3 182.4,390.5" fill="none" stroke="#cfcbcb" stroke-width="0.5" stroke-linecap="round" stroke-linejoin="round" />
<polyline points="185.5,389.2 185.5,391.4" fill="none" stroke="#cfcbcb" stroke-width="0.5" stroke-linecap="round" stroke-linejoin="round" />
<polyline points="188.6,390.2 188.6,392.4" fill="none" stroke="#cfcbcb" stroke-width="0.5" stroke-linecap="round" stroke-linejoin="round" />
<polyline points="191.7,391.1 191.7,393.3" fill="none" stroke="#cfcbcb" stroke-width="0.5" stroke-linecap="round" stroke-linejoin="round" />
<polyline points="194.8,392.0 194.8,394.2" fill="none" stroke="#cfcbcb" stroke-width="0.5" stroke-linecap="round" stroke-linejoin="round" />
<polyline points="197.9,393.0 197.9,395.2" fill="none" stroke="#cfcbcb" stroke-width="0.5" stroke-linecap="round" stroke-linejoin="round" />
<polyline points="136.2,388.3 199.8,406.6" fill="none" stroke="#aaa6a6" stroke-width="1.5" stroke-linecap="round" stroke-linejoin="round" />
<polyline points="136.2,386.3 199.8,404.6" fill="none" stroke="#f6f5f5" stroke-width="1.0" stroke-linecap="round" stroke-linejoin="round" />
<polygon points="160.0,361.0 166.0,357.5 172.0,359.5 172.0,362.5 166.0,365.5 160.0,363.5" fill="#f8f7f7" stroke="#b9b5b5" stroke-width="0.5" stroke-linejoin="round" />
<ellipse cx="166.0" cy="361.2" rx="2.2" ry="1.4" fill="#e2dede" transform="rotate(15.0 166.0 361.2)" stroke="#c4c0c0" stroke-width="0.4" />
<polygon points="189.0,371.0 195.0,367.5 201.0,369.5 201.0,372.5 195.0,375.5 189.0,373.5" fill="#f8f7f7" stroke="#b9b5b5" stroke-width="0.5" stroke-linejoin="round" />
<ellipse cx="195.0" cy="371.2" rx="2.2" ry="1.4" fill="#e2dede" transform="rotate(15.0 195.0 371.2)" stroke="#c4c0c0" stroke-width="0.4" />
<polygon points="156.7,348.6 167.4,346.5 163.1,356.2" fill="#2a9fd6" />
<polyline points="140.0,352.0 157.0,347.5" fill="none" stroke="#dfe9ee" stroke-width="0.6" stroke-linecap="round" stroke-linejoin="round" />
<polygon points="131.5,360.0 136.5,358.0 137.0,392.0 132.0,391.0" fill="#f1efef" stroke="#b9b5b5" stroke-width="0.5" stroke-linejoin="round" />
<path d="M203.0 381.0 C204.5 377.3 208.7 376.8 212.0 376.5 C215.3 376.2 224.3 377.5 227.8 378.8 C231.3 380.1 235.7 383.7 238.0 386.0 C240.3 388.3 245.1 393.7 245.1 396.1 C245.1 398.5 241.2 402.6 238.0 404.0 C234.8 405.4 225.6 406.1 221.3 406.8 C217.0 407.5 208.7 409.9 206.0 409.5 C203.3 409.1 201.4 407.8 201.0 404.0 C200.6 400.2 201.5 384.7 203.0 381.0Z" fill="#f6f4f4" stroke="#b9b5b5" stroke-width="0.5" stroke-linejoin="round" stroke-linecap="round" />
<polygon points="203.5,382.0 210.0,379.5 211.0,403.0 204.5,405.0" fill="#efecec" stroke="#c9c5c5" stroke-width="0.4" stroke-linejoin="round" />
<polyline points="213.0,385.0 228.0,382.5 236.0,392.0 226.0,399.0" fill="none" stroke="#d2cece" stroke-width="0.6" stroke-linecap="round" stroke-linejoin="round" />
<polygon points="227.8,411.2 231.0,409.5 257.0,416.5 261.0,421.5 259.5,427.5 255.5,428.0 229.5,420.5 227.0,416.0" fill="url(#lgPeel)" stroke="#b9b5b5" stroke-width="0.5" stroke-linejoin="round" />
<ellipse cx="258.5" cy="422.3" rx="3.1" ry="5.2" fill="#f4f3f3" transform="rotate(-12.0 258.5 422.3)" stroke="#b9b5b5" stroke-width="0.5" />
<ellipse cx="259.0" cy="422.5" rx="1.5" ry="2.6" fill="#e0dddd" transform="rotate(-12.0 259.0 422.5)" stroke="#c4c0c0" stroke-width="0.4" />
<path d="M259.5 414.5 C259.8 413.4 263.0 412.0 264.5 412.5 C266.0 413.0 269.8 416.9 271.0 418.5 C272.2 420.1 273.8 423.0 273.5 424.5 C273.2 426.0 270.0 429.0 268.5 429.5 C267.0 430.0 262.8 429.6 262.0 428.5 C261.2 427.4 262.8 422.9 262.5 421.0 C262.2 419.1 259.2 415.6 259.5 414.5Z" fill="#f4f2f2" stroke="#b9b5b5" stroke-width="0.5" stroke-linejoin="round" stroke-linecap="round" />
<ellipse cx="269.5" cy="424.5" rx="1.3" ry="1.3" fill="#ffffff" stroke="#bdb9b9" stroke-width="0.4" />
<polygon points="236.0,423.5 256.0,429.5 254.5,433.0 235.5,427.5" fill="#e2dfdf" stroke="#c9c5c5" stroke-width="0.4" stroke-linejoin="round" />
<!-- 13_left_disc.svgfrag -->
<ellipse cx="190.0" cy="267.0" rx="16.0" ry="27.5" fill="url(#lgRing)" transform="rotate(8.0 190.0 267.0)" stroke="#c0bcbc" stroke-width="0.5" />
<ellipse cx="193.0" cy="266.0" rx="14.0" ry="25.5" fill="#f4f3f3" transform="rotate(8.0 193.0 266.0)" stroke="#d0cccc" stroke-width="0.4" />
<ellipse cx="198.0" cy="266.5" rx="14.5" ry="25.5" fill="#066d96" transform="rotate(8.0 198.0 266.5)" />
<ellipse cx="200.0" cy="267.0" rx="13.2" ry="24.0" fill="#25a8e3" transform="rotate(8.0 200.0 267.0)" />
<ellipse cx="201.0" cy="268.0" rx="9.0" ry="17.0" fill="none" transform="rotate(8.0 201.0 268.0)" stroke="#1d8fc6" stroke-width="0.8" />
<polygon points="264.8,215.0 268.1,215.3 271.3,215.8 274.4,216.5 277.5,217.5 280.5,218.6 283.5,220.0 286.3,221.6 289.0,223.4 291.5,225.3 294.0,227.4 296.2,229.7 298.3,232.1 300.2,234.7 301.9,237.4 303.4,240.2 304.6,243.1 305.7,246.1 306.4,249.2 307.0,252.4 307.4,255.6 307.6,258.9 307.7,262.2 307.7,265.6 307.5,269.0 307.4,272.4 307.1,275.8 306.9,279.2 306.6,282.5 306.4,285.8 306.3,289.1 306.2,292.4 306.2,295.5 306.2,298.7 306.3,301.8 306.3,305.0 306.4,308.1 306.3,311.2 306.2,314.4 306.0,317.6 305.7,320.9 305.3,324.2 304.8,327.5 304.1,330.7 303.4,334.0 302.5,337.2 301.5,340.4 300.4,343.5 299.1,346.5 297.7,349.5 296.2,352.3 294.5,355.1 292.7,357.7 290.7,360.1 288.5,362.4 286.2,364.6 283.7,366.6 281.1,368.4 278.3,370.0 275.4,371.6 272.5,373.1 269.5,374.5 266.4,375.8 263.3,377.2 260.2,378.5 257.2,379.9 254.2,381.3 251.2,382.6 248.2,383.6 245.1,384.3 242.1,384.5 239.1,384.5 236.0,384.1 233.0,383.3 230.0,382.3 227.1,381.1 224.2,379.6 221.4,377.9 218.6,376.0 216.0,374.0 213.4,371.8 211.0,369.4 208.7,366.9 206.5,364.3 204.5,361.6 202.7,358.8 201.0,355.9 199.5,353.0 198.2,350.0 197.1,347.0 196.2,344.0 195.5,340.9 194.8,337.8 194.4,334.6 194.1,331.5 193.9,328.3 193.8,325.1 193.9,321.9 194.1,318.7 194.4,315.4 194.7,312.2 195.2,309.0 195.7,305.7 196.4,302.5 197.1,299.3 197.8,296.1 198.6,293.0 199.5,289.8 200.4,286.7 201.4,283.5 202.4,280.4 203.5,277.3 204.6,274.2 205.8,271.2 206.9,268.1 208.1,265.1 209.4,262.1 210.6,259.1 211.9,256.1 213.2,253.1 214.5,250.2 215.8,247.3 217.2,244.4 218.8,241.6 220.4,238.9 222.2,236.3 224.2,233.8 226.3,231.4 228.6,229.1 231.1,226.9 233.7,224.9 236.5,223.1 239.4,221.4 242.4,219.9 245.4,218.5 248.6,217.4 251.8,216.5 255.0,215.8 258.3,215.3 261.6,215.0" fill="#066d96"/>
<polygon points="264.9,216.0 267.8,215.6 270.8,215.6 273.8,215.9 276.8,216.6 279.7,217.6 282.6,218.9 285.5,220.4 288.2,222.2 290.8,224.2 293.2,226.3 295.5,228.7 297.6,231.1 299.5,233.7 301.1,236.3 302.5,238.9 303.7,241.7 304.7,244.5 305.6,247.3 306.2,250.2 306.7,253.2 307.1,256.2 307.3,259.2 307.5,262.3 307.5,265.4 307.5,268.5 307.4,271.7 307.3,274.9 307.1,278.1 307.0,281.3 306.8,284.5 306.6,287.7 306.5,290.9 306.4,294.1 306.3,297.4 306.3,300.6 306.2,303.8 306.1,306.9 306.0,310.1 305.9,313.3 305.8,316.4 305.5,319.5 305.3,322.6 304.9,325.6 304.5,328.7 304.0,331.6 303.3,334.6 302.6,337.5 301.7,340.4 300.7,343.2 299.5,346.0 298.2,348.7 296.7,351.3 295.1,353.9 293.2,356.5 291.2,358.9 289.1,361.3 286.8,363.6 284.4,365.7 281.9,367.8 279.3,369.6 276.7,371.4 273.9,373.0 271.1,374.4 268.3,375.6 265.4,376.7 262.5,377.8 259.6,378.8 256.7,379.9 253.8,381.0 250.8,382.0 247.8,382.8 244.8,383.2 241.8,383.3 238.8,383.0 235.9,382.4 233.0,381.4 230.3,380.1 227.6,378.5 225.0,376.6 222.6,374.5 220.3,372.2 218.2,369.7 216.2,367.1 214.3,364.4 212.7,361.6 211.2,358.7 209.9,355.9 208.8,353.0 207.8,350.0 207.0,347.1 206.4,344.1 205.9,341.1 205.5,338.1 205.2,335.1 205.1,332.1 205.0,329.0 205.0,326.0 205.1,322.9 205.3,319.8 205.6,316.7 205.9,313.6 206.2,310.4 206.6,307.3 206.9,304.1 207.3,301.0 207.8,297.8 208.2,294.6 208.7,291.5 209.2,288.3 209.7,285.2 210.4,282.1 211.0,279.0 211.7,275.9 212.5,272.9 213.4,269.9 214.3,266.9 215.3,264.0 216.4,261.1 217.6,258.3 218.8,255.5 220.2,252.8 221.7,250.2 223.3,247.6 225.0,245.1 226.9,242.6 228.8,240.3 230.9,238.0 233.2,235.8 235.5,233.7 237.9,231.7 240.4,229.8 243.0,227.9 245.6,226.1 248.3,224.3 251.0,222.6 253.7,221.0 256.5,219.4 259.2,218.0 262.0,216.9" fill="#25a8e3"/>
<polyline points="200.5,300.0 208.5,302.5" fill="none" stroke="#1683b8" stroke-width="0.7" stroke-linecap="round" stroke-linejoin="round" />
<polyline points="199.6,306.5 207.6,309.0" fill="none" stroke="#1683b8" stroke-width="0.7" stroke-linecap="round" stroke-linejoin="round" />
<polyline points="198.7,313.0 206.7,315.5" fill="none" stroke="#1683b8" stroke-width="0.7" stroke-linecap="round" stroke-linejoin="round" />
<polyline points="197.8,319.5 205.8,322.0" fill="none" stroke="#1683b8" stroke-width="0.7" stroke-linecap="round" stroke-linejoin="round" />
<polyline points="196.9,326.0 204.9,328.5" fill="none" stroke="#1683b8" stroke-width="0.7" stroke-linecap="round" stroke-linejoin="round" />
<polyline points="196.0,332.5 204.0,335.0" fill="none" stroke="#1683b8" stroke-width="0.7" stroke-linecap="round" stroke-linejoin="round" />
<polyline points="197.6,339.0 205.6,341.5" fill="none" stroke="#1683b8" stroke-width="0.7" stroke-linecap="round" stroke-linejoin="round" />
<polyline points="199.2,345.5 207.2,348.0" fill="none" stroke="#1683b8" stroke-width="0.7" stroke-linecap="round" stroke-linejoin="round" />
<polyline points="200.8,352.0 208.8,354.5" fill="none" stroke="#1683b8" stroke-width="0.7" stroke-linecap="round" stroke-linejoin="round" />
<path d="M246.0 266.0 C245.9 258.5 245.5 254.6 246.5 250.5 C247.5 246.4 247.6 247.1 251.0 245.5 C254.4 243.9 260.7 242.2 263.5 242.5 C266.3 242.8 264.8 243.1 265.0 247.0 C265.2 250.9 265.1 255.4 264.5 262.0 C263.9 268.6 261.9 273.2 262.0 280.0 C262.1 286.8 265.6 291.3 265.0 296.0 C264.4 300.7 261.8 302.4 259.0 303.5 C256.2 304.6 253.4 304.6 251.0 301.5 C248.6 298.4 248.0 295.1 247.0 288.0 C246.0 280.9 246.1 273.5 246.0 266.0Z" fill="#066d96" />
<path d="M248.2 266.0 C248.0 258.7 247.8 255.2 248.6 251.5 C249.4 247.8 249.6 248.6 252.0 247.3 C254.4 246.0 258.9 242.1 260.8 245.0 C262.7 247.9 261.5 255.0 261.3 262.0 C261.1 269.0 259.7 273.6 260.0 280.0 C260.3 286.4 263.3 289.9 263.0 294.0 C262.7 298.1 260.5 299.5 258.5 300.5 C256.5 301.5 254.8 301.5 253.0 299.0 C251.2 296.5 250.5 294.6 249.5 288.0 C248.5 281.4 248.4 273.3 248.2 266.0Z" fill="#f1efef" />
<polyline points="257.6,221.0 257.2,246.0" fill="none" stroke="#1583bc" stroke-width="0.9" stroke-linecap="round" stroke-linejoin="round" />
<polyline points="257.2,303.0 256.5,381.0" fill="none" stroke="#1583bc" stroke-width="1.2" stroke-linecap="round" stroke-linejoin="round" />
<path d="M247.0 296.0 C248.1 299.2 247.3 303.9 251.0 308.0 C254.7 312.1 252.5 312.8 261.0 311.5 C269.5 310.2 273.1 308.5 283.0 303.0 C292.9 297.5 291.7 295.8 298.0 291.0 C304.3 286.2 304.2 286.6 306.5 285.0" fill="none" stroke="#1583bc" stroke-width="1.0" stroke-linejoin="round" stroke-linecap="round" />
<path d="M296.0 292.5 C290.4 296.4 282.5 299.1 275.0 307.0 C267.5 314.9 270.5 312.7 268.0 322.0 C265.5 331.3 266.8 333.2 265.5 342.0 C264.2 350.8 265.3 349.8 263.0 355.0 C260.7 360.2 258.6 359.8 257.0 361.5" fill="none" stroke="#1583bc" stroke-width="1.0" stroke-linejoin="round" stroke-linecap="round" />
<polyline points="230.0,371.5 257.0,360.5" fill="none" stroke="#1583bc" stroke-width="0.9" stroke-linecap="round" stroke-linejoin="round" />
<ellipse cx="281.3" cy="330.6" rx="9.7" ry="16.4" fill="none" transform="rotate(12.0 281.3 330.6)" stroke="#1583bc" stroke-width="1.1" />
<ellipse cx="281.8" cy="331.1" rx="9.7" ry="16.4" fill="none" transform="rotate(12.0 281.8 331.1)" stroke="#bfe6f8" stroke-width="0.8" stroke-dasharray="13 70" stroke-dashoffset="-22"/>
<ellipse cx="280.9" cy="330.2" rx="9.7" ry="16.4" fill="none" transform="rotate(12.0 280.9 330.2)" stroke="#bfe6f8" stroke-width="0.7" stroke-dasharray="10 80" stroke-dashoffset="-66"/>
<polygon points="197.4,263.6 200.0,262.8 262.0,280.4 266.5,288.5 262.5,297.0 258.0,297.0 196.4,276.6 194.6,270.0" fill="url(#lgSp)" stroke="#b4b0b0" stroke-width="0.5" stroke-linejoin="round" />
<ellipse cx="197.6" cy="270.0" rx="3.2" ry="6.4" fill="#e4e2e2" transform="rotate(-15.0 197.6 270.0)" stroke="#b7b3b3" stroke-width="0.5" />
<ellipse cx="262.0" cy="288.8" rx="4.6" ry="8.4" fill="#f4f3f3" transform="rotate(-15.0 262.0 288.8)" stroke="#a9a5a5" stroke-width="0.6" />
<ellipse cx="262.8" cy="288.5" rx="2.3" ry="4.2" fill="#dddbdb" transform="rotate(-15.0 262.8 288.5)" stroke="#b7b3b3" stroke-width="0.5" />
<polyline points="261.5,285.5 264.0,291.5" fill="none" stroke="#a9a5a5" stroke-width="0.6" stroke-linecap="round" stroke-linejoin="round" />
<ellipse cx="208.0" cy="269.4" rx="1.9" ry="1.3" fill="#ffffff" transform="rotate(15.0 208.0 269.4)" stroke="#bdbaba" stroke-width="0.4" />
<ellipse cx="211.0" cy="275.2" rx="2.0" ry="1.4" fill="#fbfbfb" transform="rotate(15.0 211.0 275.2)" stroke="#bdbaba" stroke-width="0.4" />
<ellipse cx="216.6" cy="271.8" rx="1.9" ry="1.3" fill="#ffffff" transform="rotate(15.0 216.6 271.8)" stroke="#bdbaba" stroke-width="0.4" />
<ellipse cx="219.6" cy="277.6" rx="2.0" ry="1.4" fill="#fbfbfb" transform="rotate(15.0 219.6 277.6)" stroke="#bdbaba" stroke-width="0.4" />
<ellipse cx="225.2" cy="274.3" rx="1.9" ry="1.3" fill="#ffffff" transform="rotate(15.0 225.2 274.3)" stroke="#bdbaba" stroke-width="0.4" />
<ellipse cx="228.2" cy="280.1" rx="2.0" ry="1.4" fill="#fbfbfb" transform="rotate(15.0 228.2 280.1)" stroke="#bdbaba" stroke-width="0.4" />
<ellipse cx="233.8" cy="276.8" rx="1.9" ry="1.3" fill="#ffffff" transform="rotate(15.0 233.8 276.8)" stroke="#bdbaba" stroke-width="0.4" />
<ellipse cx="236.8" cy="282.6" rx="2.0" ry="1.4" fill="#fbfbfb" transform="rotate(15.0 236.8 282.6)" stroke="#bdbaba" stroke-width="0.4" />
<ellipse cx="242.4" cy="279.2" rx="1.9" ry="1.3" fill="#ffffff" transform="rotate(15.0 242.4 279.2)" stroke="#bdbaba" stroke-width="0.4" />
<ellipse cx="245.4" cy="285.0" rx="2.0" ry="1.4" fill="#fbfbfb" transform="rotate(15.0 245.4 285.0)" stroke="#bdbaba" stroke-width="0.4" />
<ellipse cx="251.0" cy="281.6" rx="1.9" ry="1.3" fill="#ffffff" transform="rotate(15.0 251.0 281.6)" stroke="#bdbaba" stroke-width="0.4" />
<ellipse cx="254.0" cy="287.4" rx="2.0" ry="1.4" fill="#fbfbfb" transform="rotate(15.0 254.0 287.4)" stroke="#bdbaba" stroke-width="0.4" />
<ellipse cx="149.5" cy="290.5" rx="9.3" ry="24.8" fill="url(#lgFl)" transform="rotate(-4.0 149.5 290.5)" stroke="#bfbbbb" stroke-width="0.5" />
<ellipse cx="153.5" cy="291.5" rx="9.0" ry="24.0" fill="#dcdada" transform="rotate(-4.0 153.5 291.5)" stroke="#cbc7c7" stroke-width="0.5" />
<ellipse cx="155.5" cy="292.5" rx="8.3" ry="22.0" fill="#eeeded" transform="rotate(-4.0 155.5 292.5)" stroke="#c6c2c2" stroke-width="0.5" />
<polygon points="153.2,276.6 156.0,275.3 230.0,294.6 234.0,300.0 234.5,320.0 229.0,327.5 223.0,326.8 155.6,316.2 152.5,310.0 152.0,283.0" fill="url(#lgRoll)" stroke="#b7b3b3" stroke-width="0.5" stroke-linejoin="round" />
<ellipse cx="169.0" cy="288.5" rx="2.8" ry="1.7" fill="#ffffff" transform="rotate(20.0 169.0 288.5)" stroke="#c9c5c5" stroke-width="0.4" />
<ellipse cx="211.0" cy="301.5" rx="2.8" ry="1.7" fill="#ffffff" transform="rotate(20.0 211.0 301.5)" stroke="#c9c5c5" stroke-width="0.4" />
<ellipse cx="167.0" cy="312.0" rx="2.8" ry="1.7" fill="#ffffff" transform="rotate(20.0 167.0 312.0)" stroke="#c9c5c5" stroke-width="0.4" />
<polyline points="164.5,278.0 164.0,317.5" fill="none" stroke="#c4c0c0" stroke-width="0.6" stroke-linecap="round" stroke-linejoin="round" />
<polyline points="160.0,277.0 159.5,316.8" fill="none" stroke="#d3cfcf" stroke-width="0.5" stroke-linecap="round" stroke-linejoin="round" />
<ellipse cx="227.0" cy="310.3" rx="8.6" ry="17.6" fill="#e2e0e0" transform="rotate(-8.0 227.0 310.3)" stroke="#b5b1b1" stroke-width="0.6" />
<ellipse cx="230.0" cy="310.8" rx="7.8" ry="15.6" fill="#f4f3f3" transform="rotate(-8.0 230.0 310.8)" stroke="#bbb7b7" stroke-width="0.5" />
<ellipse cx="233.0" cy="311.3" rx="6.8" ry="13.0" fill="#e6e4e4" transform="rotate(-8.0 233.0 311.3)" stroke="#c0bcbc" stroke-width="0.5" stroke-dasharray="1.2 1"/>
<ellipse cx="236.0" cy="311.8" rx="6.2" ry="10.3" fill="#fbfbfb" transform="rotate(-8.0 236.0 311.8)" stroke="#c4c0c0" stroke-width="0.6" />
<polygon points="305.0,247.2 310.5,248.8 310.5,271.0 305.0,269.5" fill="#066d96" />
<polygon points="248.0,258.5 254.6,255.2 318.2,275.0 329.0,278.4 332.5,287.0 329.5,297.8 324.9,297.6 248.0,273.8 246.6,266.0" fill="url(#lgShaft)" stroke="#a9a5a5" stroke-width="0.5" stroke-linejoin="round" />
<polyline points="249.0,260.2 254.8,257.6 318.0,277.6" fill="none" stroke="#c2bebe" stroke-width="0.7" stroke-linecap="round" stroke-linejoin="round" />
<polyline points="255.0,259.5 317.0,279.0" fill="none" stroke="#b5b1b1" stroke-width="0.5" stroke-linecap="round" stroke-linejoin="round" stroke-dasharray="1 1.6"/>
<ellipse cx="328.4" cy="288.2" rx="5.0" ry="9.8" fill="#efeded" transform="rotate(-8.0 328.4 288.2)" stroke="#a9a5a5" stroke-width="0.6" />
<ellipse cx="329.2" cy="288.6" rx="2.8" ry="5.6" fill="#fbfbfb" transform="rotate(-8.0 329.2 288.6)" stroke="#bdb9b9" stroke-width="0.5" />
<polygon points="313.8,244.0 315.0,241.0 318.0,239.0 322.5,238.0 324.4,239.3 325.0,242.0 325.2,266.0 324.0,271.0 319.8,276.6 316.8,274.5 314.2,263.0" fill="#f6f4f4" stroke="#aeaaaa" stroke-width="0.6" stroke-linejoin="round" />
<polygon points="316.5,245.0 321.5,243.5 322.0,262.0 317.3,264.0" fill="#eceaea" stroke="#cbc7c7" stroke-width="0.5" stroke-linejoin="round" />
<polyline points="322.8,247.0 324.8,246.4" fill="none" stroke="#c4c0c0" stroke-width="0.5" stroke-linecap="round" stroke-linejoin="round" />
<polyline points="322.8,251.8 324.8,251.2" fill="none" stroke="#c4c0c0" stroke-width="0.5" stroke-linecap="round" stroke-linejoin="round" />
<polyline points="322.8,256.6 324.8,256.0" fill="none" stroke="#c4c0c0" stroke-width="0.5" stroke-linecap="round" stroke-linejoin="round" />
<polyline points="322.8,261.4 324.8,260.8" fill="none" stroke="#c4c0c0" stroke-width="0.5" stroke-linecap="round" stroke-linejoin="round" />
<!-- 20_right_lid.svgfrag -->
<defs><linearGradient id="rgA" gradientUnits="userSpaceOnUse" x1="560.0" y1="322.0" x2="548.0" y2="372.0"><stop offset="0" stop-color="#f4f4f4"/><stop offset="0.12" stop-color="#ededed"/><stop offset="0.5" stop-color="#b9b9b9"/><stop offset="1" stop-color="#a9a9a9"/></linearGradient><linearGradient id="rgCyl" gradientUnits="userSpaceOnUse" x1="452.0" y1="392.0" x2="466.0" y2="424.0"><stop offset="0" stop-color="#d6d6d6"/><stop offset="0.25" stop-color="#fcfcfc"/><stop offset="0.6" stop-color="#e6e6e6"/><stop offset="1" stop-color="#bdbdbd"/></linearGradient><linearGradient id="rgShaft" gradientUnits="userSpaceOnUse" x1="565.0" y1="440.0" x2="570.0" y2="456.0"><stop offset="0" stop-color="#cfcfcf"/><stop offset="0.3" stop-color="#fbfbfb"/><stop offset="0.65" stop-color="#dedede"/><stop offset="1" stop-color="#b3b3b3"/></linearGradient><linearGradient id="rgDoor" gradientUnits="userSpaceOnUse" x1="615.0" y1="480.0" x2="625.0" y2="590.0"><stop offset="0" stop-color="#27aae6"/><stop offset="0.45" stop-color="#23a2de"/><stop offset="1" stop-color="#1b90cb"/></linearGradient><linearGradient id="rgCurve" gradientUnits="userSpaceOnUse" x1="690.0" y1="335.0" x2="670.0" y2="385.0"><stop offset="0" stop-color="#2aa2da"/><stop offset="0.3" stop-color="#1585bf"/><stop offset="1" stop-color="#0f76ad"/></linearGradient></defs>
<polygon points="471.0,352.0 480.0,350.0 615.0,388.0 621.0,388.0 643.0,427.3 651.8,466.0 657.3,466.0 658.0,548.0 600.0,575.0 470.0,545.0 460.0,420.0 465.0,370.0" fill="#e9e2e2" stroke="#b9b5b5" stroke-width="0.5" stroke-linejoin="round" />
<polygon points="621.0,389.0 640.0,379.0 652.0,386.0 657.0,393.0 657.3,466.0 651.8,466.0 643.0,427.3" fill="#fbfafa" stroke="#b9b5b5" stroke-width="0.5" stroke-linejoin="round" />
<polygon points="644.0,404.5 649.0,402.2 650.0,430.0 646.5,431.5" fill="#f4f2f2" stroke="#c4c0c0" stroke-width="0.5" stroke-linejoin="round" />
<polygon points="651.0,401.5 656.0,404.0 656.0,437.0 651.5,438.0" fill="#f1efef" stroke="#c4c0c0" stroke-width="0.5" stroke-linejoin="round" />
<ellipse cx="651.5" cy="410.5" rx="1.6" ry="2.2" fill="none" stroke="#bdb9b9" stroke-width="0.5" />
<polyline points="650.5,418.0 650.8,432.0" fill="none" stroke="#b5b1b1" stroke-width="0.8" stroke-linecap="round" stroke-linejoin="round" stroke-dasharray="1.5 1"/>
<polyline points="652.0,440.0 654.0,462.0" fill="none" stroke="#c9c5c5" stroke-width="0.5" stroke-linecap="round" stroke-linejoin="round" />
<path d="M463.2 249.0 C466.5 244.1 520.8 229.0 524.8 228.0 C528.8 227.0 537.7 227.2 538.5 230.0 C539.3 232.8 539.1 276.5 539.0 281.0 C538.9 285.5 536.7 312.4 536.0 315.0 C535.3 317.6 529.0 327.6 526.0 329.5 C523.0 331.4 481.9 350.2 479.0 351.5 C476.1 352.8 472.1 353.8 471.5 353.5 C470.9 353.2 468.0 346.8 467.5 345.0 C467.0 343.2 462.2 325.1 462.0 320.0 C461.8 314.9 459.9 253.9 463.2 249.0Z" fill="#f6f4f4" stroke="#b9b5b5" stroke-width="0.6" stroke-linejoin="round" stroke-linecap="round" />
<path d="M471.5 266.5 C473.8 262.2 513.4 249.5 516.6 250.2 C519.8 250.9 530.0 276.7 531.0 280.0 C532.0 283.3 534.8 310.5 534.5 313.0 C534.2 315.5 528.0 325.1 525.0 327.0 C522.0 328.9 481.8 348.3 479.0 348.5 C476.2 348.7 473.4 334.4 473.0 330.0 C472.6 325.6 469.2 270.8 471.5 266.5Z" fill="#fbfafa" stroke="#d3cfcf" stroke-width="0.5" stroke-linejoin="round" stroke-linecap="round" />
<polyline points="470.2,258.3 515.5,242.1" fill="none" stroke="#b8b4b4" stroke-width="1.6" stroke-linecap="round" stroke-linejoin="round" />
<polyline points="470.5,260.6 515.8,244.4" fill="none" stroke="#d8d4d4" stroke-width="0.8" stroke-linecap="round" stroke-linejoin="round" />
<path d="M486.4 266.5 C487.3 262.9 493.8 260.1 494.6 263.5 C495.4 266.9 494.3 293.6 494.5 300.0 C494.7 306.4 496.3 323.1 496.9 327.0 C497.4 330.9 500.5 337.4 500.0 339.0 C499.5 340.6 493.2 343.5 492.0 342.5 C490.8 341.5 488.4 333.2 487.8 329.0 C487.2 324.8 485.9 306.2 485.8 300.0 C485.7 293.8 485.5 270.1 486.4 266.5Z" fill="#ebe6e6" stroke="#cdc7c7" stroke-width="0.5" stroke-linejoin="round" stroke-linecap="round" />
<path d="M509.7 278.6 C510.2 276.2 515.6 273.9 516.6 276.0 C517.6 278.1 518.7 295.4 519.5 300.0 C520.3 304.6 523.9 319.3 524.8 322.0 C525.6 324.7 528.4 326.2 528.0 327.0 C527.6 327.8 522.1 330.3 521.0 330.0 C519.9 329.7 517.5 327.0 516.6 324.0 C515.7 321.0 512.7 304.5 512.0 300.0 C511.3 295.5 509.2 281.0 509.7 278.6Z" fill="#ebe6e6" stroke="#cdc7c7" stroke-width="0.5" stroke-linejoin="round" stroke-linecap="round" />
<polyline points="472.5,289.7 486.0,285.3" fill="none" stroke="#b9b2b2" stroke-width="1.3" stroke-linecap="round" stroke-linejoin="round" />
<polyline points="494.5,282.5 512.0,276.9" fill="none" stroke="#b9b2b2" stroke-width="1.3" stroke-linecap="round" stroke-linejoin="round" />
<polyline points="472.5,314.0 486.5,309.2" fill="none" stroke="#b9b2b2" stroke-width="1.3" stroke-linecap="round" stroke-linejoin="round" />
<polyline points="495.5,306.2 513.5,300.0" fill="none" stroke="#b9b2b2" stroke-width="1.3" stroke-linecap="round" stroke-linejoin="round" />
<polyline points="520.5,297.7 531.5,294.0" fill="none" stroke="#b9b2b2" stroke-width="1.3" stroke-linecap="round" stroke-linejoin="round" />
<polyline points="474.8,340.8 525.9,318.7" fill="none" stroke="#c9c3c3" stroke-width="0.9" stroke-linecap="round" stroke-linejoin="round" />
<polygon points="465.5,268.0 470.0,266.3 470.5,275.2 466.0,277.0" fill="#e4dede" stroke="#c9c5c5" stroke-width="0.5" stroke-linejoin="round" />
<ellipse cx="496.0" cy="337.5" rx="1.5" ry="1.5" fill="#fdfdfd" stroke="#b5afaf" stroke-width="0.5" />
<ellipse cx="522.5" cy="328.0" rx="1.5" ry="1.5" fill="#fdfdfd" stroke="#b5afaf" stroke-width="0.5" />
<polygon points="538.5,280.0 640.6,313.0 649.8,319.9 654.7,351.0 600.0,332.0 560.0,320.0 536.4,314.2" fill="#e7e1e1" stroke="#b9b5b5" stroke-width="0.4" stroke-linejoin="round" />
<polygon points="640.6,313.0 649.8,319.9 681.6,322.8 680.6,341.8 654.7,351.0" fill="#eeeaea" stroke="#b9b5b5" stroke-width="0.4" stroke-linejoin="round" />
<polyline points="539.0,300.0 652.0,336.0" fill="none" stroke="#d6d0d0" stroke-width="0.5" stroke-linecap="round" stroke-linejoin="round" />
<polyline points="650.0,319.5 651.0,348.5" fill="none" stroke="#fbfbfb" stroke-width="0.9" stroke-linecap="round" stroke-linejoin="round" />
<clipPath id="clipRP"><path d="M536.4 315.2 C538.2 314.7 553.7 318.1 560.0 320.0 C566.3 321.9 649.7 349.0 654.5 351.5 C659.3 354.0 650.4 366.2 649.6 367.6 C648.8 369.0 640.9 376.5 639.6 377.6 C638.3 378.7 627.3 387.0 625.9 387.6 C624.5 388.2 621.8 390.0 614.0 388.0 C606.2 386.0 487.2 352.6 480.0 350.5 C472.8 348.4 477.0 350.6 479.5 349.5 C482.0 348.4 523.0 331.3 526.0 329.5 C529.0 327.7 534.6 315.7 536.4 315.2Z"/></clipPath>
<filter id="blurR" x="-20%" y="-60%" width="140%" height="220%"><feGaussianBlur stdDeviation="5"/></filter>
<linearGradient id="rgP" gradientUnits="userSpaceOnUse" x1="595.0" y1="332.3" x2="585.8" y2="363.0"><stop offset="0" stop-color="#ececec"/><stop offset="0.12" stop-color="#e2e2e2"/><stop offset="0.45" stop-color="#bebebe"/><stop offset="0.8" stop-color="#9f9f9f"/><stop offset="1" stop-color="#959595"/></linearGradient>
<g clip-path="url(#clipRP)"><rect x="470" y="305" width="200" height="95" fill="url(#rgP)"/><ellipse cx="535" cy="326" rx="13" ry="8" fill="#ffffff" filter="url(#blurR)" opacity="0.9" transform="rotate(-35 535 326)"/><path d="M528 324 L537 313 L560 318 L600 330.5" fill="none" stroke="#ffffff" stroke-width="5" stroke-linejoin="round" filter="url(#blurR)" opacity="0.55"/></g>
<polyline points="480.0,351.6 615.0,389.0" fill="none" stroke="#e9e5e5" stroke-width="3.2" stroke-linecap="round" stroke-linejoin="round" />
<polyline points="480.0,351.2 615.0,388.6" fill="none" stroke="#b9b5b5" stroke-width="1.6" stroke-linecap="round" stroke-linejoin="round" stroke-dasharray="2.2 1.2"/>
<polyline points="540.0,352.0 600.0,369.0" fill="none" stroke="#b4b4b4" stroke-width="0.5" stroke-linecap="round" stroke-linejoin="round" stroke-dasharray="2 2"/>
<polygon points="495.7,266.6 538.5,233.9 684.4,277.7 640.6,313.5" fill="#9e9e9e" />
<polygon points="549.5,233.9 557.5,236.3 557.0,237.4 549.0,235.0" fill="#fbfbfb" stroke="#b5b1b1" stroke-width="0.6" stroke-linejoin="round" />
<polygon points="578.7,242.6 586.7,245.0 586.2,246.1 578.2,243.7" fill="#fbfbfb" stroke="#b5b1b1" stroke-width="0.6" stroke-linejoin="round" />
<polygon points="607.9,251.4 615.9,253.8 615.4,254.9 607.4,252.5" fill="#fbfbfb" stroke="#b5b1b1" stroke-width="0.6" stroke-linejoin="round" />
<polygon points="637.1,260.1 645.1,262.5 644.6,263.6 636.6,261.2" fill="#fbfbfb" stroke="#b5b1b1" stroke-width="0.6" stroke-linejoin="round" />
<polygon points="666.3,268.9 674.3,271.3 673.8,272.4 665.8,270.0" fill="#fbfbfb" stroke="#b5b1b1" stroke-width="0.6" stroke-linejoin="round" />
<polygon points="681.4,319.9 713.2,296.0 718.2,290.0 717.2,329.8 711.2,334.8 681.4,343.7 684.0,330.0" fill="#06709a" />
<polyline points="683.0,320.5 713.0,298.0" fill="none" stroke="#1d8cc6" stroke-width="0.9" stroke-linecap="round" stroke-linejoin="round" />
<polyline points="683.0,324.7 713.0,302.4" fill="none" stroke="#1d8cc6" stroke-width="0.9" stroke-linecap="round" stroke-linejoin="round" />
<polyline points="683.0,328.9 713.0,306.8" fill="none" stroke="#1d8cc6" stroke-width="0.9" stroke-linecap="round" stroke-linejoin="round" />
<polyline points="683.0,333.1 713.0,311.2" fill="none" stroke="#1d8cc6" stroke-width="0.9" stroke-linecap="round" stroke-linejoin="round" />
<polyline points="683.0,337.3 713.0,315.6" fill="none" stroke="#1d8cc6" stroke-width="0.9" stroke-linecap="round" stroke-linejoin="round" />
<polyline points="683.0,341.5 713.0,320.0" fill="none" stroke="#1d8cc6" stroke-width="0.9" stroke-linecap="round" stroke-linejoin="round" />
<polygon points="714.0,290.5 718.2,289.0 717.4,329.5 713.3,333.0" fill="#239bd6" />
<path d="M640.6 313.5 C642.7 310.7 679.3 279.4 684.4 277.7 C689.5 276.0 715.3 287.4 717.2 288.7 C719.1 290.0 714.1 295.5 713.2 296.6 C712.3 297.7 705.2 303.5 704.0 304.5 C702.8 305.5 696.7 310.5 695.3 311.5 C693.9 312.5 684.8 318.5 683.4 319.3 C682.0 320.1 675.2 322.6 674.0 323.0 C672.8 323.4 666.9 324.9 665.5 324.6 C664.1 324.3 654.7 319.9 653.0 319.2 C651.3 318.5 638.5 316.3 640.6 313.5Z" fill="#06709a" />
<polyline points="684.4,277.9 717.4,288.7" fill="none" stroke="#2299d4" stroke-width="1.6" stroke-linecap="round" stroke-linejoin="round" />
<path d="M640.6 313.8 C642.3 314.6 649.7 318.0 653.0 319.5 C656.3 321.0 662.7 324.5 665.5 325.0 C668.3 325.5 671.6 324.1 674.0 323.4 C676.4 322.7 680.6 321.3 683.4 319.8 C686.2 318.3 692.6 314.0 695.3 312.0 C698.0 310.0 701.6 307.0 704.0 305.0 C706.4 303.0 712.0 298.1 713.2 297.0" fill="none" stroke="#2299d4" stroke-width="1.5" stroke-linejoin="round" stroke-linecap="round" />
<path d="M654.5 351.7 C657.7 349.3 675.7 345.4 681.4 343.7 C687.1 342.0 707.6 336.2 711.2 334.8 C714.8 333.4 717.0 328.9 717.2 329.8 C717.4 330.7 715.0 340.5 713.2 343.7 C711.4 346.9 702.7 358.2 699.3 361.6 C695.9 365.0 684.4 375.0 679.4 377.6 C674.4 380.2 655.4 385.4 649.6 387.5 C643.8 389.6 624.7 398.5 621.7 398.5 C618.7 398.5 619.3 388.5 619.7 387.5 C620.1 386.5 624.0 389.5 626.0 388.5 C628.0 387.5 637.2 379.7 639.6 377.6 C642.0 375.5 648.1 370.2 649.6 367.6 C651.1 365.0 651.3 354.1 654.5 351.7Z" fill="url(#rgCurve)" />
<polygon points="654.5,351.7 681.4,343.7 711.2,334.8 717.2,329.8 716.0,337.0 710.0,340.5 681.0,349.5 653.5,357.5" fill="#2ba5dd" />
<polyline points="657.0,351.0 657.3,356.5" fill="none" stroke="#1380b8" stroke-width="0.7" stroke-linecap="round" stroke-linejoin="round" />
<polyline points="661.0,349.8 661.3,355.3" fill="none" stroke="#1380b8" stroke-width="0.7" stroke-linecap="round" stroke-linejoin="round" />
<polyline points="665.0,348.6 665.3,354.1" fill="none" stroke="#1380b8" stroke-width="0.7" stroke-linecap="round" stroke-linejoin="round" />
<polyline points="669.0,347.4 669.3,352.9" fill="none" stroke="#1380b8" stroke-width="0.7" stroke-linecap="round" stroke-linejoin="round" />
<polyline points="673.0,346.1 673.3,351.6" fill="none" stroke="#1380b8" stroke-width="0.7" stroke-linecap="round" stroke-linejoin="round" />
<polyline points="677.0,344.9 677.3,350.4" fill="none" stroke="#1380b8" stroke-width="0.7" stroke-linecap="round" stroke-linejoin="round" />
<polyline points="681.0,343.7 681.3,349.2" fill="none" stroke="#1380b8" stroke-width="0.7" stroke-linecap="round" stroke-linejoin="round" />
<polyline points="685.0,342.5 685.3,348.0" fill="none" stroke="#1380b8" stroke-width="0.7" stroke-linecap="round" stroke-linejoin="round" />
<polyline points="689.0,341.3 689.3,346.8" fill="none" stroke="#1380b8" stroke-width="0.7" stroke-linecap="round" stroke-linejoin="round" />
<polyline points="693.0,340.1 693.3,345.6" fill="none" stroke="#1380b8" stroke-width="0.7" stroke-linecap="round" stroke-linejoin="round" />
<polyline points="697.0,338.9 697.3,344.4" fill="none" stroke="#1380b8" stroke-width="0.7" stroke-linecap="round" stroke-linejoin="round" />
<polyline points="701.0,337.6 701.3,343.1" fill="none" stroke="#1380b8" stroke-width="0.7" stroke-linecap="round" stroke-linejoin="round" />
<polyline points="705.0,336.4 705.3,341.9" fill="none" stroke="#1380b8" stroke-width="0.7" stroke-linecap="round" stroke-linejoin="round" />
<polyline points="709.0,335.2 709.3,340.7" fill="none" stroke="#1380b8" stroke-width="0.7" stroke-linecap="round" stroke-linejoin="round" />
<!-- 21_right_body.svgfrag -->
<polygon points="401.0,529.0 409.0,537.3 460.0,550.8 461.0,553.5 501.0,565.8 502.0,568.8 579.0,591.3 583.0,592.5 672.0,548.0 672.0,552.0 583.0,596.5 577.0,595.3 500.0,571.5 459.0,556.0 407.0,541.0 400.0,533.0" fill="#f3f1f1" stroke="#b9b5b5" stroke-width="0.5" stroke-linejoin="round" />
<polygon points="409.0,537.0 440.0,520.0 500.0,500.0 560.0,520.0 600.0,540.0 660.0,545.0 672.0,548.0 583.0,592.5 579.0,591.3 502.0,568.8 501.0,565.8 461.0,553.5 460.0,550.8" fill="#e9e6e6" stroke="#b9b5b5" stroke-width="0.4" stroke-linejoin="round" />
<polygon points="420.0,540.0 437.0,538.5 455.0,533.0 474.6,543.4 520.0,528.0 532.9,536.3 483.4,554.9 460.0,552.5" fill="#aaa8a8" />
<polygon points="483.4,554.9 532.9,536.3 554.6,535.6 596.0,553.0 596.0,560.0 548.4,576.6 505.0,566.5" fill="#a3a2a2" />
<clipPath id="clipMeshR"><polygon points="483.4,554.9 532.9,536.3 554.6,535.6 596.0,553.0 596.0,560.0 548.4,576.6 505.0,566.5"/></clipPath>
<g clip-path="url(#clipMeshR)" stroke="#c4c3c3" stroke-width="0.7" fill="none"><line x1="483.0" y1="555.0" x2="548.5" y2="530.4"/><line x1="485.0" y1="555.5" x2="550.5" y2="530.9"/><line x1="487.0" y1="556.1" x2="552.5" y2="531.5"/><line x1="489.0" y1="556.6" x2="554.5" y2="532.0"/><line x1="491.0" y1="557.2" x2="556.5" y2="532.6"/><line x1="493.0" y1="557.8" x2="558.5" y2="533.1"/><line x1="495.0" y1="558.3" x2="560.5" y2="533.7"/><line x1="497.0" y1="558.9" x2="562.5" y2="534.2"/><line x1="499.0" y1="559.4" x2="564.5" y2="534.8"/><line x1="501.0" y1="560.0" x2="566.5" y2="535.3"/><line x1="503.0" y1="560.5" x2="568.5" y2="535.9"/><line x1="505.0" y1="561.0" x2="570.5" y2="536.4"/><line x1="507.0" y1="561.6" x2="572.5" y2="537.0"/><line x1="509.0" y1="562.1" x2="574.5" y2="537.5"/><line x1="511.0" y1="562.7" x2="576.5" y2="538.1"/><line x1="513.0" y1="563.2" x2="578.5" y2="538.6"/><line x1="515.0" y1="563.8" x2="580.5" y2="539.2"/><line x1="517.0" y1="564.4" x2="582.5" y2="539.7"/><line x1="519.0" y1="564.9" x2="584.5" y2="540.3"/><line x1="521.0" y1="565.5" x2="586.5" y2="540.8"/><line x1="523.0" y1="566.0" x2="588.5" y2="541.4"/><line x1="525.0" y1="566.5" x2="590.5" y2="541.9"/><line x1="527.0" y1="567.1" x2="592.5" y2="542.5"/><line x1="529.0" y1="567.6" x2="594.5" y2="543.0"/><line x1="531.0" y1="568.2" x2="596.5" y2="543.6"/><line x1="533.0" y1="568.8" x2="598.5" y2="544.1"/><line x1="535.0" y1="569.3" x2="600.5" y2="544.7"/><line x1="537.0" y1="569.9" x2="602.5" y2="545.2"/><line x1="539.0" y1="570.4" x2="604.5" y2="545.8"/><line x1="541.0" y1="571.0" x2="606.5" y2="546.3"/><line x1="543.0" y1="571.5" x2="608.5" y2="546.9"/><line x1="545.0" y1="572.0" x2="610.5" y2="547.4"/><line x1="547.0" y1="572.6" x2="612.5" y2="548.0"/><line x1="549.0" y1="573.1" x2="614.5" y2="548.5"/><line x1="551.0" y1="573.7" x2="616.5" y2="549.1"/><line x1="553.0" y1="574.2" x2="618.5" y2="549.6"/><line x1="555.0" y1="574.8" x2="620.5" y2="550.2"/><line x1="557.0" y1="575.4" x2="622.5" y2="550.7"/><line x1="559.0" y1="575.9" x2="624.5" y2="551.3"/><line x1="561.0" y1="576.5" x2="626.5" y2="551.8"/><line x1="478.5" y1="552.9" x2="555.0" y2="589.4"/><line x1="480.4" y1="552.1" x2="556.9" y2="588.7"/><line x1="482.3" y1="551.5" x2="558.8" y2="588.0"/><line x1="484.2" y1="550.8" x2="560.7" y2="587.3"/><line x1="486.1" y1="550.1" x2="562.6" y2="586.6"/><line x1="488.0" y1="549.4" x2="564.5" y2="585.9"/><line x1="489.9" y1="548.6" x2="566.4" y2="585.2"/><line x1="491.8" y1="548.0" x2="568.3" y2="584.5"/><line x1="493.7" y1="547.2" x2="570.2" y2="583.8"/><line x1="495.6" y1="546.6" x2="572.1" y2="583.1"/><line x1="497.5" y1="545.9" x2="574.0" y2="582.4"/><line x1="499.4" y1="545.1" x2="575.9" y2="581.7"/><line x1="501.3" y1="544.5" x2="577.8" y2="581.0"/><line x1="503.2" y1="543.8" x2="579.7" y2="580.3"/><line x1="505.1" y1="543.1" x2="581.6" y2="579.6"/><line x1="507.0" y1="542.4" x2="583.5" y2="578.9"/><line x1="508.9" y1="541.6" x2="585.4" y2="578.2"/><line x1="510.8" y1="541.0" x2="587.3" y2="577.5"/><line x1="512.7" y1="540.2" x2="589.2" y2="576.8"/><line x1="514.6" y1="539.6" x2="591.1" y2="576.1"/><line x1="516.5" y1="538.9" x2="593.0" y2="575.4"/><line x1="518.4" y1="538.1" x2="594.9" y2="574.7"/><line x1="520.3" y1="537.5" x2="596.8" y2="574.0"/><line x1="522.2" y1="536.8" x2="598.7" y2="573.3"/><line x1="524.1" y1="536.1" x2="600.6" y2="572.6"/><line x1="526.0" y1="535.4" x2="602.5" y2="571.9"/><line x1="527.9" y1="534.6" x2="604.4" y2="571.2"/><line x1="529.8" y1="534.0" x2="606.3" y2="570.5"/><line x1="531.7" y1="533.2" x2="608.2" y2="569.8"/><line x1="533.6" y1="532.6" x2="610.1" y2="569.1"/><line x1="535.5" y1="531.9" x2="612.0" y2="568.4"/><line x1="537.4" y1="531.1" x2="613.9" y2="567.7"/><line x1="539.3" y1="530.5" x2="615.8" y2="567.0"/><line x1="541.2" y1="529.8" x2="617.7" y2="566.3"/><line x1="543.1" y1="529.1" x2="619.6" y2="565.6"/><line x1="545.0" y1="528.4" x2="621.5" y2="564.9"/><line x1="546.9" y1="527.6" x2="623.4" y2="564.2"/><line x1="548.8" y1="527.0" x2="625.3" y2="563.5"/><line x1="550.7" y1="526.2" x2="627.2" y2="562.8"/><line x1="552.6" y1="525.6" x2="629.1" y2="562.1"/><line x1="554.5" y1="524.9" x2="631.0" y2="561.4"/><line x1="556.4" y1="524.1" x2="632.9" y2="560.7"/><line x1="558.3" y1="523.5" x2="634.8" y2="560.0"/><line x1="560.2" y1="522.8" x2="636.7" y2="559.3"/><line x1="562.1" y1="522.1" x2="638.6" y2="558.6"/></g>
<polyline points="484.0,555.5 533.0,537.0" fill="none" stroke="#9e9c9c" stroke-width="1.0" stroke-linecap="round" stroke-linejoin="round" />
<polygon points="553.0,577.4 592.6,561.1 595.0,563.0 595.0,567.0 562.4,582.8" fill="#fdfdfd" stroke="#d0cccc" stroke-width="0.5" stroke-linejoin="round" />
<ellipse cx="531.4" cy="541.0" rx="2.4" ry="1.4" fill="#fbfbfb" transform="rotate(-10.0 531.4 541.0)" stroke="#cfcbcb" stroke-width="0.4" />
<polygon points="534.4,540.0 542.4,542.0 542.4,544.2 534.4,542.3" fill="#d4d2d2" stroke="#c2c0c0" stroke-width="0.3" stroke-linejoin="round" />
<ellipse cx="576.3" cy="554.9" rx="2.4" ry="1.4" fill="#fbfbfb" transform="rotate(-10.0 576.3 554.9)" stroke="#cfcbcb" stroke-width="0.4" />
<polygon points="579.3,553.9 587.3,555.9 587.3,558.1 579.3,556.2" fill="#d4d2d2" stroke="#c2c0c0" stroke-width="0.3" stroke-linejoin="round" />
<polygon points="400.0,482.8 401.5,481.0 409.0,483.5 409.5,530.0 411.0,537.5 400.0,527.5" fill="#d2cdcd" stroke="#bab5b5" stroke-width="0.5" stroke-linejoin="round" />
<polygon points="404.9,460.5 409.0,459.0 414.0,462.0 414.0,483.0 409.0,483.5 404.5,480.0" fill="#e9e5e5" stroke="#b9b5b5" stroke-width="0.5" stroke-linejoin="round" />
<polygon points="409.0,483.5 425.0,478.0 452.0,496.0 452.0,530.0 420.0,540.0 409.5,536.0" fill="#dcd8d8" stroke="#b9b5b5" stroke-width="0.4" stroke-linejoin="round" />
<polygon points="436.0,520.0 452.0,514.0 452.0,532.0 437.0,538.0" fill="#bdb9b9" />
<polygon points="409.0,459.0 417.0,456.5 455.0,443.5 466.0,441.5 490.0,447.0 497.0,453.5 494.5,454.0 433.8,475.8 425.0,478.0 414.0,473.0" fill="#e8e4e4" stroke="#b9b5b5" stroke-width="0.5" stroke-linejoin="round" />
<polygon points="420.0,465.0 466.0,447.5 488.0,452.0 436.0,472.5" fill="#d9d5d5" stroke="#c9c5c5" stroke-width="0.4" stroke-linejoin="round" />
<polygon points="432.0,465.5 437.0,459.5 448.0,456.5 452.0,460.5 447.0,463.5 438.0,467.0" fill="#f6f5f5" stroke="#b9b5b5" stroke-width="0.5" stroke-linejoin="round" />
<polygon points="454.0,452.5 459.0,446.5 469.0,444.5 473.5,448.0 468.0,451.5 460.0,455.0" fill="#f6f5f5" stroke="#b9b5b5" stroke-width="0.5" stroke-linejoin="round" />
<polygon points="433.8,475.8 494.5,453.9 502.4,471.8 452.7,495.7 447.0,492.0" fill="#d9d9d9" stroke="#bdb9b9" stroke-width="0.5" stroke-linejoin="round" />
<polygon points="439.0,480.0 443.0,478.5 446.0,486.0 442.0,487.5" fill="#f4f3f3" stroke="#c4c0c0" stroke-width="0.4" stroke-linejoin="round" />
<polyline points="450.5,491.5 503.0,470.5" fill="none" stroke="#fbfbfb" stroke-width="4.2" stroke-linecap="round" stroke-linejoin="round" />
<polyline points="452.5,496.0 504.5,474.8" fill="none" stroke="#c3bfbf" stroke-width="0.9" stroke-linecap="round" stroke-linejoin="round" />
<ellipse cx="503.5" cy="472.5" rx="2.6" ry="3.6" fill="#f1efef" transform="rotate(-20.0 503.5 472.5)" stroke="#bab6b6" stroke-width="0.5" />
<polygon points="437.0,514.0 495.0,496.5 497.0,500.5 440.0,518.5" fill="#f6f5f5" stroke="#c9c5c5" stroke-width="0.4" stroke-linejoin="round" />
<polygon points="425.0,502.0 431.0,500.5 436.0,504.0 492.5,492.5 494.5,498.5 443.0,514.5 438.0,515.5 430.0,511.0" fill="#0a79a8" />
<polygon points="432.0,501.5 438.0,503.5 492.5,492.5 493.2,495.0 440.0,507.5 433.0,505.5" fill="#27a5de" />
<polyline points="441.0,502.8 441.8,507.5" fill="none" stroke="#0a79a8" stroke-width="0.8" stroke-linecap="round" stroke-linejoin="round" />
<polyline points="444.8,502.0 445.6,506.7" fill="none" stroke="#0a79a8" stroke-width="0.8" stroke-linecap="round" stroke-linejoin="round" />
<polyline points="448.6,501.2 449.4,505.9" fill="none" stroke="#0a79a8" stroke-width="0.8" stroke-linecap="round" stroke-linejoin="round" />
<polyline points="452.4,500.5 453.2,505.2" fill="none" stroke="#0a79a8" stroke-width="0.8" stroke-linecap="round" stroke-linejoin="round" />
<polyline points="456.2,499.7 457.0,504.4" fill="none" stroke="#0a79a8" stroke-width="0.8" stroke-linecap="round" stroke-linejoin="round" />
<polyline points="460.0,498.9 460.8,503.6" fill="none" stroke="#0a79a8" stroke-width="0.8" stroke-linecap="round" stroke-linejoin="round" />
<polyline points="463.8,498.1 464.6,502.8" fill="none" stroke="#0a79a8" stroke-width="0.8" stroke-linecap="round" stroke-linejoin="round" />
<polyline points="467.6,497.3 468.4,502.0" fill="none" stroke="#0a79a8" stroke-width="0.8" stroke-linecap="round" stroke-linejoin="round" />
<polyline points="471.4,496.6 472.2,501.3" fill="none" stroke="#0a79a8" stroke-width="0.8" stroke-linecap="round" stroke-linejoin="round" />
<polyline points="475.2,495.8 476.0,500.5" fill="none" stroke="#0a79a8" stroke-width="0.8" stroke-linecap="round" stroke-linejoin="round" />
<polyline points="479.0,495.0 479.8,499.7" fill="none" stroke="#0a79a8" stroke-width="0.8" stroke-linecap="round" stroke-linejoin="round" />
<polyline points="482.8,494.2 483.6,498.9" fill="none" stroke="#0a79a8" stroke-width="0.8" stroke-linecap="round" stroke-linejoin="round" />
<polyline points="486.6,493.4 487.4,498.1" fill="none" stroke="#0a79a8" stroke-width="0.8" stroke-linecap="round" stroke-linejoin="round" />
<polyline points="490.4,492.7 491.2,497.4" fill="none" stroke="#0a79a8" stroke-width="0.8" stroke-linecap="round" stroke-linejoin="round" />
<polygon points="424.0,507.0 430.0,505.0 431.0,528.0 425.0,531.0" fill="#f7f6f6" stroke="#b9b5b5" stroke-width="0.5" stroke-linejoin="round" />
<polygon points="451.7,525.5 458.0,519.0 520.0,500.5 526.0,506.0 530.3,519.6 520.0,528.0 474.6,543.4 462.0,540.0 455.0,533.0" fill="#e9e6e6" stroke="#b9b5b5" stroke-width="0.5" stroke-linejoin="round" />
<polyline points="457.5,522.5 522.0,503.5" fill="none" stroke="#fbfbfb" stroke-width="3.2" stroke-linecap="round" stroke-linejoin="round" />
<polyline points="459.0,526.5 523.5,507.5" fill="none" stroke="#c6c2c2" stroke-width="0.7" stroke-linecap="round" stroke-linejoin="round" />
<polygon points="466.0,530.0 518.0,513.5 520.0,520.0 470.0,537.0" fill="#f4f3f3" stroke="#c9c5c5" stroke-width="0.5" stroke-linejoin="round" />
<polygon points="490.0,522.0 508.0,516.2 509.0,519.0 491.0,525.0" fill="#a9a5a5" />
<polygon points="476.0,532.5 492.0,527.5 492.8,530.0 477.0,535.0" fill="#c9c5c5" />
<polyline points="468.0,538.5 522.0,521.0" fill="none" stroke="#bdb9b9" stroke-width="0.7" stroke-linecap="round" stroke-linejoin="round" />
<path d="M505.0 455.0 C506.6 451.3 516.3 451.6 520.0 452.0 C523.7 452.4 530.9 454.3 533.0 458.0 C535.1 461.7 534.4 474.4 536.0 480.0 C537.6 485.6 542.7 493.6 545.0 500.0 C547.3 506.4 553.0 523.5 553.0 528.0 C553.0 532.5 548.3 533.5 545.0 534.0 C541.7 534.5 531.1 535.9 528.0 532.0 C524.9 528.1 524.7 511.9 522.0 505.0 C519.3 498.1 510.3 486.7 508.0 480.0 C505.7 473.3 503.4 458.7 505.0 455.0Z" fill="#ede7e7" stroke="#b9b5b5" stroke-width="0.5" stroke-linejoin="round" stroke-linecap="round" />
<polygon points="519.0,476.0 531.0,470.0 536.0,480.0 524.0,487.0" fill="#c9c6c6" />
<path d="M498.5 457.0 C499.3 453.9 499.9 454.3 503.0 453.5 C506.1 452.7 507.5 452.5 510.0 454.0 C512.5 455.5 512.2 456.1 512.5 459.0 C512.8 461.9 513.0 462.7 511.0 465.0 C509.0 467.3 507.9 467.5 505.0 467.5 C502.1 467.5 501.7 467.8 500.0 465.0 C498.3 462.2 497.7 460.1 498.5 457.0Z" fill="#10679a" />
<path d="M500.0 458.0 C500.5 455.9 501.1 456.0 503.5 455.5 C505.9 455.0 507.1 454.8 509.0 456.0 C510.9 457.2 510.5 457.9 510.5 460.0 C510.5 462.1 510.5 462.5 509.0 464.0 C507.5 465.5 507.0 465.6 505.0 465.5 C503.0 465.4 502.8 465.5 501.5 463.5 C500.2 461.5 499.5 460.1 500.0 458.0Z" fill="#06709a" />
<!-- 22_right_disc.svgfrag -->
<ellipse cx="494.0" cy="389.5" rx="12.0" ry="20.5" fill="#dedada" transform="rotate(-14.0 494.0 389.5)" stroke="#c4c0c0" stroke-width="0.5" />
<ellipse cx="496.0" cy="390.2" rx="10.5" ry="18.5" fill="#f3f1f1" transform="rotate(-14.0 496.0 390.2)" stroke="#cfcbcb" stroke-width="0.5" />
<ellipse cx="534.0" cy="397.5" rx="14.5" ry="23.0" fill="#e3dfdf" transform="rotate(-10.0 534.0 397.5)" stroke="#c4c0c0" stroke-width="0.5" />
<ellipse cx="536.5" cy="398.3" rx="12.5" ry="20.5" fill="#f6f4f4" transform="rotate(-10.0 536.5 398.3)" stroke="#cfcbcb" stroke-width="0.5" />
<ellipse cx="529.5" cy="400.0" rx="16.3" ry="21.5" fill="#1a85be" transform="rotate(-10.0 529.5 400.0)" />
<ellipse cx="526.2" cy="399.6" rx="16.0" ry="21.2" fill="#06709a" transform="rotate(-10.0 526.2 399.6)" />
<path d="M511.0 401.0 C512.7 398.2 517.3 398.6 521.0 398.5 C524.7 398.4 527.8 398.8 529.4 400.5 C531.0 402.2 530.1 404.7 529.0 407.0 C527.9 409.3 526.3 410.2 524.0 412.0 C521.7 413.8 519.8 415.7 517.5 415.8 C515.2 415.9 513.8 415.5 512.5 412.5 C511.2 409.5 509.3 403.8 511.0 401.0Z" fill="#eee9e9" />
<polygon points="429.4,399.6 487.6,375.7 494.0,379.0 499.0,390.0 499.6,404.8 442.1,428.7 435.0,429.5" fill="url(#rgCyl)" stroke="#bab6b6" stroke-width="0.5" stroke-linejoin="round" />
<ellipse cx="435.4" cy="414.5" rx="13.0" ry="15.3" fill="#e6e3e3" transform="rotate(-22.0 435.4 414.5)" stroke="#b5b1b1" stroke-width="0.6" />
<ellipse cx="435.2" cy="414.6" rx="10.6" ry="12.6" fill="#f3f1f1" transform="rotate(-22.0 435.2 414.6)" stroke="#bfbbbb" stroke-width="0.5" />
<ellipse cx="435.4" cy="414.8" rx="8.3" ry="10.0" fill="#e9e6e6" transform="rotate(-22.0 435.4 414.8)" stroke="#c6c2c2" stroke-width="0.5" />
<ellipse cx="436.4" cy="415.4" rx="5.6" ry="7.0" fill="#f8f7f7" transform="rotate(-22.0 436.4 415.4)" stroke="#cbc7c7" stroke-width="0.5" />
<polyline points="446.5,392.5 456.0,423.0" fill="none" stroke="#cfcbcb" stroke-width="0.5" stroke-linecap="round" stroke-linejoin="round" />
<ellipse cx="453.5" cy="405.0" rx="1.6" ry="2.2" fill="#a9a5a5" transform="rotate(-20.0 453.5 405.0)" />
<ellipse cx="483.0" cy="391.5" rx="1.6" ry="2.2" fill="#a9a5a5" transform="rotate(-20.0 483.0 391.5)" />
<polygon points="464.6,420.5 472.0,418.5 472.5,434.5 464.8,435.2" fill="#f1eded" stroke="#c4bfbf" stroke-width="0.5" stroke-linejoin="round" />
<polygon points="460.5,434.5 466.0,433.0 485.5,437.3 485.5,441.0 480.0,442.5 460.5,438.5" fill="#f4f1f1" stroke="#bdb8b8" stroke-width="0.5" stroke-linejoin="round" />
<polyline points="468.5,423.0 468.8,434.0" fill="none" stroke="#cfcaca" stroke-width="0.5" stroke-linecap="round" stroke-linejoin="round" />
<linearGradient id="rgRod" gradientUnits="userSpaceOnUse" x1="500.0" y1="402.0" x2="503.5" y2="411.0"><stop offset="0" stop-color="#d9d7d7"/><stop offset="0.3" stop-color="#fbfbfb"/><stop offset="0.7" stop-color="#e0dede"/><stop offset="1" stop-color="#bcbaba"/></linearGradient>
<linearGradient id="rgStub" gradientUnits="userSpaceOnUse" x1="482.0" y1="412.0" x2="486.0" y2="422.5"><stop offset="0" stop-color="#d4d2d2"/><stop offset="0.3" stop-color="#fbfbfb"/><stop offset="0.7" stop-color="#dedcdc"/><stop offset="1" stop-color="#b8b6b6"/></linearGradient>
<polygon points="473.0,417.5 475.5,415.0 493.0,408.5 494.5,418.0 478.5,425.5 474.0,424.0" fill="url(#rgStub)" stroke="#bab6b6" stroke-width="0.5" stroke-linejoin="round" />
<ellipse cx="476.4" cy="421.0" rx="3.8" ry="4.8" fill="#f1efef" transform="rotate(-20.0 476.4 421.0)" stroke="#bab6b6" stroke-width="0.5" />
<polygon points="493.0,408.7 527.5,395.8 530.0,398.5 529.4,402.3 494.2,416.0" fill="url(#rgRod)" stroke="#bab6b6" stroke-width="0.5" stroke-linejoin="round" />
<polyline points="497.0,409.2 497.8,411.4" fill="none" stroke="#bfbbbb" stroke-width="0.5" stroke-linecap="round" stroke-linejoin="round" />
<polyline points="501.2,407.6 502.0,409.8" fill="none" stroke="#bfbbbb" stroke-width="0.5" stroke-linecap="round" stroke-linejoin="round" />
<polyline points="505.4,406.0 506.2,408.2" fill="none" stroke="#bfbbbb" stroke-width="0.5" stroke-linecap="round" stroke-linejoin="round" />
<polyline points="509.6,404.5 510.4,406.7" fill="none" stroke="#bfbbbb" stroke-width="0.5" stroke-linecap="round" stroke-linejoin="round" />
<polyline points="513.8,402.9 514.6,405.1" fill="none" stroke="#bfbbbb" stroke-width="0.5" stroke-linecap="round" stroke-linejoin="round" />
<polyline points="518.0,401.3 518.8,403.5" fill="none" stroke="#bfbbbb" stroke-width="0.5" stroke-linecap="round" stroke-linejoin="round" />
<polyline points="522.2,399.7 523.0,401.9" fill="none" stroke="#bfbbbb" stroke-width="0.5" stroke-linecap="round" stroke-linejoin="round" />
<polyline points="526.4,398.1 527.2,400.3" fill="none" stroke="#bfbbbb" stroke-width="0.5" stroke-linecap="round" stroke-linejoin="round" />
<ellipse cx="594.3" cy="471.6" rx="59.9" ry="76.4" fill="#1d90ca" transform="rotate(-14.2 594.3 471.6)" />
<ellipse cx="591.2" cy="472.8" rx="59.9" ry="76.4" fill="#06709a" transform="rotate(-14.2 591.2 472.8)" />
<polygon points="600.5,466.0 650.5,466.0 650.5,486.0 600.5,507.6" fill="#06709a" />
<path d="M578.5 426.0 C578.8 423.1 578.1 422.8 580.5 422.5 C582.9 422.2 590.3 423.1 593.0 424.0 C595.7 424.9 595.8 423.3 596.5 428.0 C597.2 432.7 596.7 445.7 597.0 452.0 C597.3 458.3 598.8 462.6 598.5 466.0 C598.2 469.4 596.8 471.1 595.0 472.5 C593.2 473.9 590.0 474.9 588.0 474.5 C586.0 474.1 584.2 472.8 583.0 470.0 C581.8 467.2 581.7 463.0 581.0 458.0 C580.3 453.0 579.4 445.3 579.0 440.0 C578.6 434.7 578.2 428.9 578.5 426.0Z" fill="#1a87c1" />
<path d="M581.5 427.0 C581.7 424.5 581.1 425.0 583.0 424.8 C584.9 424.6 591.0 425.3 593.0 426.0 C595.0 426.7 594.8 424.7 595.3 429.0 C595.8 433.3 595.5 446.0 595.8 452.0 C596.1 458.0 597.3 461.9 597.0 465.0 C596.7 468.1 595.4 469.3 594.0 470.5 C592.6 471.7 590.1 472.3 588.5 472.0 C586.9 471.7 585.4 470.8 584.5 468.5 C583.6 466.2 583.7 462.8 583.3 458.0 C582.9 453.2 582.3 445.2 582.0 440.0 C581.7 434.8 581.3 429.5 581.5 427.0Z" fill="#efecec" />
<polyline points="589.5,474.0 590.5,546.0" fill="none" stroke="#0c6391" stroke-width="0.8" stroke-linecap="round" stroke-linejoin="round" />
<polyline points="588.0,400.0 588.5,424.0" fill="none" stroke="#0c6391" stroke-width="0.7" stroke-linecap="round" stroke-linejoin="round" />
<path d="M548.0 500.0 C555.3 506.3 552.7 510.3 570.0 519.0 C587.3 527.7 590.0 523.7 600.0 526.0" fill="none" stroke="#2a8dc0" stroke-width="0.6" stroke-linejoin="round" stroke-linecap="round" stroke-dasharray="1.5 2"/>
<polyline points="600.0,470.0 648.0,470.0" fill="none" stroke="#2a8dc0" stroke-width="0.6" stroke-linecap="round" stroke-linejoin="round" stroke-dasharray="1.5 2"/>
<polygon points="537.5,452.5 541.0,449.3 594.4,434.0 596.5,440.0 595.1,447.8 540.0,470.5 536.0,468.0 535.5,460.0" fill="url(#rgShaft)" stroke="#aeaaaa" stroke-width="0.5" stroke-linejoin="round" />
<polyline points="541.0,456.5 595.5,439.5" fill="none" stroke="#bcb8b8" stroke-width="0.6" stroke-linecap="round" stroke-linejoin="round" />
<path d="M533.0 422.5 C533.1 420.6 535.4 420.4 536.0 420.3 C536.6 420.2 542.0 420.8 542.5 421.0 C543.0 421.2 543.4 422.3 543.5 424.0 C543.6 425.7 543.5 445.1 543.3 447.0 C543.1 448.9 540.6 451.9 540.0 452.0 C539.4 452.1 534.5 451.0 534.0 449.0 C533.5 447.0 532.9 424.4 533.0 422.5Z" fill="#f6f4f4" stroke="#aeaaaa" stroke-width="0.6" stroke-linejoin="round" stroke-linecap="round" />
<polygon points="535.5,424.5 541.0,424.0 541.0,446.0 536.0,447.5" fill="#e9e6e6" stroke="#cbc7c7" stroke-width="0.5" stroke-linejoin="round" />
<polygon points="529.0,450.0 541.0,447.0 544.5,452.0 542.0,459.5 531.0,461.0" fill="#f1efef" stroke="#b9b5b5" stroke-width="0.5" stroke-linejoin="round" />
<ellipse cx="534.5" cy="455.5" rx="1.6" ry="1.6" fill="#fdfdfd" stroke="#b5b1b1" stroke-width="0.5" />
<polygon points="650.5,467.0 657.3,465.7 657.3,545.4 652.0,558.0 646.5,567.0 627.6,577.8 584.3,594.0 580.3,592.7 589.7,575.0 593.8,556.2 593.8,531.9 599.2,530.5 600.5,507.6 600.5,507.6 602.6,504.5 604.7,505.8 606.8,502.7 608.8,504.0 610.9,500.9 613.0,502.2 615.1,499.1 617.2,500.4 619.2,497.3 621.3,498.6 623.4,495.5 625.5,496.8 627.6,493.7 629.7,495.0 631.8,491.9 633.8,493.2 635.9,490.1 638.0,491.4 640.1,488.3 642.2,489.6 644.2,486.5 646.3,487.8 648.4,484.7 650.5,486.0" fill="url(#rgDoor)" />
<polyline points="650.5,467.0 650.5,486.0" fill="none" stroke="#0e6a9a" stroke-width="0.7" stroke-linecap="round" stroke-linejoin="round" />
<path d="M657.3 545.4 C656.2 547.9 654.2 553.7 652.0 558.0 C649.8 562.3 651.4 563.0 646.5 567.0 C641.6 571.0 640.0 572.4 627.6 577.8 C615.2 583.2 593.0 590.8 584.3 594.0" fill="none" stroke="#2b9bd4" stroke-width="1.2" stroke-linejoin="round" stroke-linecap="round" />
<polyline points="593.8,531.9 599.2,530.5 600.5,507.6" fill="none" stroke="#2596d1" stroke-width="1.0" stroke-linecap="round" stroke-linejoin="round" />
<polyline points="608.0,531.0 613.0,529.0" fill="none" stroke="#9fd3f0" stroke-width="0.8" stroke-linecap="round" stroke-linejoin="round" />
<ellipse cx="610.0" cy="534.0" rx="0.9" ry="0.9" fill="#0d6797" />
<polyline points="644.0,517.0 649.0,515.0" fill="none" stroke="#9fd3f0" stroke-width="0.8" stroke-linecap="round" stroke-linejoin="round" />
<ellipse cx="646.0" cy="520.0" rx="0.9" ry="0.9" fill="#0d6797" />
<!-- 90_arrows.svgfrag -->
<g fill="none" stroke="#0b6eb5" stroke-width="3.9"><path d="M375 144.95 H924.15 V280.7"/><path d="M697 505.8 H923 V361"/></g>
<g fill="#0b6eb5"><path d="M364.5 144.9 L376.3 138.9 V150.9Z"/><path d="M686.5 505.8 L698.3 499.8 V511.8Z"/></g>
<path d="M835.0 329.4 L837.0 331.6 L839.0 329.4 L841.0 331.6 L843.0 329.4 L845.0 331.6 L847.0 329.4 L849.0 331.6 L851.0 329.4 L853.0 331.6 L855.0 329.4 L857.0 331.6 L859.0 329.4 L861.0 331.6 L863.0 329.4 L865.0 331.6 L867.0 329.4 L869.0 331.6 L871.0 329.4 L873.0 331.6 L875.0 329.4 L877.0 331.6 L879.0 329.4 L881.0 331.6 L883.0 329.4 L885.0 331.6 L887.0 329.4 L889.0 331.6 L891.0 329.4 L893.0 331.6 L895.0 329.4 L897.0 331.6 L899.0 329.4 L901.0 331.6 L903.0 329.4 L905.0 331.6 L907.0 329.4 L909.0 331.6 L911.0 329.4 L913.0 331.6 L915.0 329.4 L917.0 331.6 L919.0 329.4 L921.0 331.6 L923.0 329.4 L925.0 331.6 L927.0 329.4 L929.0 331.6 L931.0 329.4" fill="none" stroke="#e8695a" stroke-width="0.95" stroke-linejoin="round"/>
<path d="M937.4 329.4 L939.4 331.6 L941.4 329.4 L943.4 331.6 L945.4 329.4 L947.4 331.6 L949.4 329.4 L951.4 331.6 L953.4 329.4 L955.4 331.6 L957.4 329.4 L959.4 331.6 L961.4 329.4 L963.4 331.6 L965.4 329.4 L967.4 331.6 L969.4 329.4 L971.4 331.6 L973.4 329.4 L975.4 331.6 L977.4 329.4 L979.4 331.6 L981.4 329.4 L983.4 331.6 L985.4 329.4 L987.4 331.6 L989.4 329.4 L991.4 331.6 L993.4 329.4 L995.4 331.6 L997.4 329.4 L999.4 331.6 L1001.4 329.4 L1003.4 331.6 L1005.4 329.4 L1007.4 331.6 L1009.4 329.4 L1011.4 331.6 L1013.4 329.4 L1015.4 331.6 L1017.4 329.4 L1019.4 331.6 L1021.4 329.4 L1023.4 331.6 L1025.4 329.4 L1027.4 331.6 L1029.4 329.4 L1031.4 331.6 L1033.4 329.4 L1035.4 331.6 L1037.4 329.4" fill="none" stroke="#e8695a" stroke-width="0.95" stroke-linejoin="round"/>
</svg>
<div class="lbl" id="l1">Plastica</div><div class="lbl" id="l2">riciclata</div>
</body></html>
